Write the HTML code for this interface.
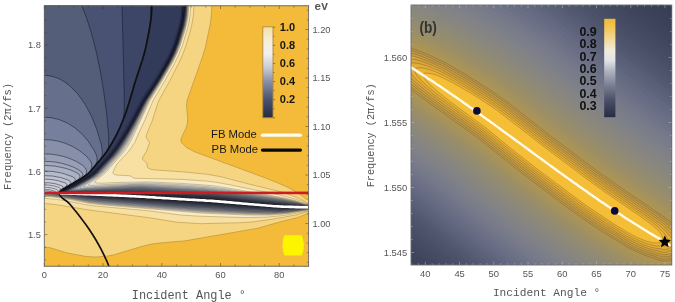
<!DOCTYPE html>
<html><head><meta charset="utf-8"><style>
html,body{margin:0;padding:0;background:#fff;}
body{width:675px;height:302px;position:relative;overflow:hidden;font-family:"Liberation Sans",sans-serif;}
.pl{position:absolute;left:0;top:0;}
#wrap{position:absolute;left:0;top:0;width:675px;height:302px;filter:blur(0.4px);}
.t{position:absolute;white-space:nowrap;line-height:1;}
</style></head><body>
<div id="wrap"><svg class="pl" width="675" height="302" viewBox="0 0 675 302"><defs><clipPath id="cL"><rect x="44.3" y="5.8" width="264.3" height="260.4"/></clipPath><clipPath id="cA"><path d="M43.3,4.8 L183.9,4.8 L183.8,5.3 L183.8,5.8 L183.8,6.3 L183.8,6.8 L183.7,7.3 L183.7,7.8 L183.7,8.3 L183.6,8.8 L183.6,9.3 L183.6,9.8 L183.5,10.3 L183.5,10.8 L183.4,11.3 L183.4,11.8 L183.3,12.3 L183.3,12.8 L183.2,13.3 L183.2,13.8 L183.1,14.3 L183.1,14.8 L183,15.3 L182.9,15.8 L182.9,16.3 L182.8,16.8 L182.7,17.3 L182.7,17.8 L182.6,18.3 L182.5,18.8 L182.4,19.3 L182.3,19.8 L182.2,20.3 L182.1,20.8 L182,21.3 L181.9,21.8 L181.8,22.3 L181.7,22.8 L181.6,23.3 L181.5,23.8 L181.4,24.3 L181.3,24.8 L181.2,25.3 L181,25.8 L180.9,26.3 L180.8,26.8 L180.6,27.3 L180.5,27.8 L180.4,28.3 L180.2,28.8 L180.1,29.3 L180,29.8 L179.8,30.3 L179.7,30.8 L179.5,31.3 L179.4,31.8 L179.2,32.3 L179.1,32.8 L178.9,33.3 L178.8,33.8 L178.6,34.3 L178.5,34.8 L178.3,35.3 L178.1,35.8 L178,36.3 L177.8,36.8 L177.7,37.3 L177.5,37.8 L177.3,38.3 L177.2,38.8 L177,39.3 L176.8,39.8 L176.7,40.3 L176.5,40.8 L176.3,41.3 L176.2,41.8 L176,42.3 L175.8,42.8 L175.6,43.3 L175.5,43.8 L175.3,44.3 L175.1,44.8 L175,45.3 L174.8,45.8 L174.6,46.3 L174.4,46.8 L174.2,47.3 L174,47.8 L173.8,48.3 L173.7,48.8 L173.5,49.3 L173.3,49.8 L173,50.3 L172.8,50.8 L172.6,51.3 L172.4,51.8 L172.2,52.3 L172,52.8 L171.8,53.3 L171.5,53.8 L171.3,54.3 L171.1,54.8 L170.8,55.3 L170.6,55.8 L170.3,56.3 L170.1,56.8 L169.8,57.3 L169.6,57.8 L169.3,58.3 L169.1,58.8 L168.8,59.3 L168.5,59.8 L168.3,60.3 L168,60.8 L167.7,61.3 L167.5,61.8 L167.2,62.3 L166.9,62.8 L166.6,63.3 L166.4,63.8 L166.1,64.3 L165.8,64.8 L165.5,65.3 L165.2,65.8 L164.9,66.3 L164.6,66.8 L164.4,67.3 L164.1,67.8 L163.8,68.3 L163.5,68.8 L163.2,69.3 L162.9,69.8 L162.6,70.3 L162.3,70.8 L162,71.3 L161.7,71.8 L161.4,72.3 L161.1,72.8 L160.8,73.3 L160.5,73.8 L160.2,74.3 L159.9,74.8 L159.6,75.3 L159.3,75.8 L159,76.3 L158.7,76.8 L158.4,77.3 L158.1,77.8 L157.8,78.3 L157.5,78.8 L157.2,79.3 L156.9,79.8 L156.6,80.3 L156.3,80.8 L156,81.3 L155.7,81.8 L155.4,82.3 L155.1,82.8 L154.8,83.3 L154.4,83.8 L154.1,84.3 L153.8,84.8 L153.4,85.3 L153.1,85.8 L152.8,86.3 L152.4,86.8 L152.1,87.3 L151.8,87.8 L151.4,88.3 L151.1,88.8 L150.7,89.3 L150.4,89.8 L150,90.3 L149.7,90.8 L149.3,91.3 L149,91.8 L148.7,92.3 L148.3,92.8 L148,93.3 L147.6,93.8 L147.3,94.3 L147,94.8 L146.6,95.3 L146.3,95.8 L146,96.3 L145.6,96.8 L145.3,97.3 L145,97.8 L144.7,98.3 L144.4,98.8 L144.1,99.3 L143.7,99.8 L143.4,100.3 L143.1,100.8 L142.9,101.3 L142.6,101.8 L142.3,102.3 L142,102.8 L141.7,103.3 L141.5,103.8 L141.2,104.3 L140.9,104.8 L140.7,105.3 L140.4,105.8 L140.1,106.3 L139.9,106.8 L139.6,107.3 L139.4,107.8 L139.1,108.3 L138.8,108.8 L138.6,109.3 L138.3,109.8 L138.1,110.3 L137.8,110.8 L137.6,111.3 L137.3,111.8 L137,112.3 L136.8,112.8 L136.5,113.3 L136.3,113.8 L136,114.3 L135.7,114.8 L135.5,115.3 L135.2,115.8 L135,116.3 L134.7,116.8 L134.4,117.3 L134.2,117.8 L133.9,118.3 L133.6,118.8 L133.4,119.3 L133.1,119.8 L132.8,120.3 L132.6,120.8 L132.3,121.3 L132,121.8 L131.7,122.3 L131.5,122.8 L131.2,123.3 L130.9,123.8 L130.6,124.3 L130.3,124.8 L130.1,125.3 L129.8,125.8 L129.5,126.3 L129.2,126.8 L128.9,127.3 L128.6,127.8 L128.3,128.3 L128,128.8 L127.7,129.3 L127.4,129.8 L127.1,130.3 L126.8,130.8 L126.5,131.3 L126.2,131.8 L125.9,132.3 L125.6,132.8 L125.3,133.3 L125,133.8 L124.7,134.3 L124.4,134.8 L124.1,135.3 L123.8,135.8 L123.5,136.3 L123.2,136.8 L122.9,137.3 L122.5,137.8 L122.2,138.3 L121.9,138.8 L121.6,139.3 L121.3,139.8 L120.9,140.3 L120.6,140.8 L120.3,141.3 L120,141.8 L119.6,142.3 L119.3,142.8 L119,143.3 L118.7,143.8 L118.3,144.3 L118,144.8 L117.7,145.3 L117.3,145.8 L117,146.3 L116.7,146.8 L116.3,147.3 L116,147.8 L115.6,148.3 L115.3,148.8 L114.9,149.3 L114.6,149.8 L114.2,150.3 L113.9,150.8 L113.5,151.3 L113.1,151.8 L112.7,152.3 L112.3,152.8 L111.9,153.3 L111.5,153.8 L111.1,154.3 L110.7,154.8 L110.2,155.3 L109.8,155.8 L109.4,156.3 L108.9,156.8 L108.5,157.3 L108,157.8 L107.6,158.3 L107.1,158.8 L106.6,159.3 L106.2,159.8 L105.7,160.3 L105.2,160.8 L104.8,161.3 L104.3,161.8 L103.8,162.3 L103.3,162.8 L102.9,163.3 L102.4,163.8 L101.9,164.3 L101.5,164.8 L101,165.3 L100.5,165.8 L100.1,166.3 L99.6,166.8 L99.2,167.3 L98.7,167.8 L98.3,168.3 L97.8,168.8 L97.3,169.3 L96.9,169.8 L96.4,170.3 L95.9,170.8 L95.4,171.3 L94.8,171.8 L94.3,172.3 L93.7,172.8 L93.1,173.3 L92.5,173.8 L91.9,174.3 L91.2,174.8 L90.5,175.3 L89.8,175.8 L89,176.3 L88.2,176.8 L87.4,177.3 L86.6,177.8 L85.7,178.3 L84.8,178.8 L84,179.3 L83.1,179.8 L82.2,180.3 L81.3,180.8 L80.4,181.3 L79.5,181.8 L78.6,182.3 L77.7,182.8 L76.8,183.3 L75.9,183.8 L74.9,184.3 L74,184.8 L73,185.3 L72,185.8 L71,186.3 L69.9,186.8 L68.9,187.3 L67.9,187.8 L66.9,188.3 L65.9,188.8 L64.9,189.3 L63.9,189.8 L62.9,190.3 L62,190.8 L61.3,191.3 L60.8,191.8 L60.5,192.3 L60.2,192.8 L43.3,192.9Z"/></clipPath><clipPath id="cR"><path clip-rule="evenodd" d="M0,0H675V302H0ZM43.3,4.8 L183.9,4.8 L183.8,5.3 L183.8,5.8 L183.8,6.3 L183.8,6.8 L183.7,7.3 L183.7,7.8 L183.7,8.3 L183.6,8.8 L183.6,9.3 L183.6,9.8 L183.5,10.3 L183.5,10.8 L183.4,11.3 L183.4,11.8 L183.3,12.3 L183.3,12.8 L183.2,13.3 L183.2,13.8 L183.1,14.3 L183.1,14.8 L183,15.3 L182.9,15.8 L182.9,16.3 L182.8,16.8 L182.7,17.3 L182.7,17.8 L182.6,18.3 L182.5,18.8 L182.4,19.3 L182.3,19.8 L182.2,20.3 L182.1,20.8 L182,21.3 L181.9,21.8 L181.8,22.3 L181.7,22.8 L181.6,23.3 L181.5,23.8 L181.4,24.3 L181.3,24.8 L181.2,25.3 L181,25.8 L180.9,26.3 L180.8,26.8 L180.6,27.3 L180.5,27.8 L180.4,28.3 L180.2,28.8 L180.1,29.3 L180,29.8 L179.8,30.3 L179.7,30.8 L179.5,31.3 L179.4,31.8 L179.2,32.3 L179.1,32.8 L178.9,33.3 L178.8,33.8 L178.6,34.3 L178.5,34.8 L178.3,35.3 L178.1,35.8 L178,36.3 L177.8,36.8 L177.7,37.3 L177.5,37.8 L177.3,38.3 L177.2,38.8 L177,39.3 L176.8,39.8 L176.7,40.3 L176.5,40.8 L176.3,41.3 L176.2,41.8 L176,42.3 L175.8,42.8 L175.6,43.3 L175.5,43.8 L175.3,44.3 L175.1,44.8 L175,45.3 L174.8,45.8 L174.6,46.3 L174.4,46.8 L174.2,47.3 L174,47.8 L173.8,48.3 L173.7,48.8 L173.5,49.3 L173.3,49.8 L173,50.3 L172.8,50.8 L172.6,51.3 L172.4,51.8 L172.2,52.3 L172,52.8 L171.8,53.3 L171.5,53.8 L171.3,54.3 L171.1,54.8 L170.8,55.3 L170.6,55.8 L170.3,56.3 L170.1,56.8 L169.8,57.3 L169.6,57.8 L169.3,58.3 L169.1,58.8 L168.8,59.3 L168.5,59.8 L168.3,60.3 L168,60.8 L167.7,61.3 L167.5,61.8 L167.2,62.3 L166.9,62.8 L166.6,63.3 L166.4,63.8 L166.1,64.3 L165.8,64.8 L165.5,65.3 L165.2,65.8 L164.9,66.3 L164.6,66.8 L164.4,67.3 L164.1,67.8 L163.8,68.3 L163.5,68.8 L163.2,69.3 L162.9,69.8 L162.6,70.3 L162.3,70.8 L162,71.3 L161.7,71.8 L161.4,72.3 L161.1,72.8 L160.8,73.3 L160.5,73.8 L160.2,74.3 L159.9,74.8 L159.6,75.3 L159.3,75.8 L159,76.3 L158.7,76.8 L158.4,77.3 L158.1,77.8 L157.8,78.3 L157.5,78.8 L157.2,79.3 L156.9,79.8 L156.6,80.3 L156.3,80.8 L156,81.3 L155.7,81.8 L155.4,82.3 L155.1,82.8 L154.8,83.3 L154.4,83.8 L154.1,84.3 L153.8,84.8 L153.4,85.3 L153.1,85.8 L152.8,86.3 L152.4,86.8 L152.1,87.3 L151.8,87.8 L151.4,88.3 L151.1,88.8 L150.7,89.3 L150.4,89.8 L150,90.3 L149.7,90.8 L149.3,91.3 L149,91.8 L148.7,92.3 L148.3,92.8 L148,93.3 L147.6,93.8 L147.3,94.3 L147,94.8 L146.6,95.3 L146.3,95.8 L146,96.3 L145.6,96.8 L145.3,97.3 L145,97.8 L144.7,98.3 L144.4,98.8 L144.1,99.3 L143.7,99.8 L143.4,100.3 L143.1,100.8 L142.9,101.3 L142.6,101.8 L142.3,102.3 L142,102.8 L141.7,103.3 L141.5,103.8 L141.2,104.3 L140.9,104.8 L140.7,105.3 L140.4,105.8 L140.1,106.3 L139.9,106.8 L139.6,107.3 L139.4,107.8 L139.1,108.3 L138.8,108.8 L138.6,109.3 L138.3,109.8 L138.1,110.3 L137.8,110.8 L137.6,111.3 L137.3,111.8 L137,112.3 L136.8,112.8 L136.5,113.3 L136.3,113.8 L136,114.3 L135.7,114.8 L135.5,115.3 L135.2,115.8 L135,116.3 L134.7,116.8 L134.4,117.3 L134.2,117.8 L133.9,118.3 L133.6,118.8 L133.4,119.3 L133.1,119.8 L132.8,120.3 L132.6,120.8 L132.3,121.3 L132,121.8 L131.7,122.3 L131.5,122.8 L131.2,123.3 L130.9,123.8 L130.6,124.3 L130.3,124.8 L130.1,125.3 L129.8,125.8 L129.5,126.3 L129.2,126.8 L128.9,127.3 L128.6,127.8 L128.3,128.3 L128,128.8 L127.7,129.3 L127.4,129.8 L127.1,130.3 L126.8,130.8 L126.5,131.3 L126.2,131.8 L125.9,132.3 L125.6,132.8 L125.3,133.3 L125,133.8 L124.7,134.3 L124.4,134.8 L124.1,135.3 L123.8,135.8 L123.5,136.3 L123.2,136.8 L122.9,137.3 L122.5,137.8 L122.2,138.3 L121.9,138.8 L121.6,139.3 L121.3,139.8 L120.9,140.3 L120.6,140.8 L120.3,141.3 L120,141.8 L119.6,142.3 L119.3,142.8 L119,143.3 L118.7,143.8 L118.3,144.3 L118,144.8 L117.7,145.3 L117.3,145.8 L117,146.3 L116.7,146.8 L116.3,147.3 L116,147.8 L115.6,148.3 L115.3,148.8 L114.9,149.3 L114.6,149.8 L114.2,150.3 L113.9,150.8 L113.5,151.3 L113.1,151.8 L112.7,152.3 L112.3,152.8 L111.9,153.3 L111.5,153.8 L111.1,154.3 L110.7,154.8 L110.2,155.3 L109.8,155.8 L109.4,156.3 L108.9,156.8 L108.5,157.3 L108,157.8 L107.6,158.3 L107.1,158.8 L106.6,159.3 L106.2,159.8 L105.7,160.3 L105.2,160.8 L104.8,161.3 L104.3,161.8 L103.8,162.3 L103.3,162.8 L102.9,163.3 L102.4,163.8 L101.9,164.3 L101.5,164.8 L101,165.3 L100.5,165.8 L100.1,166.3 L99.6,166.8 L99.2,167.3 L98.7,167.8 L98.3,168.3 L97.8,168.8 L97.3,169.3 L96.9,169.8 L96.4,170.3 L95.9,170.8 L95.4,171.3 L94.8,171.8 L94.3,172.3 L93.7,172.8 L93.1,173.3 L92.5,173.8 L91.9,174.3 L91.2,174.8 L90.5,175.3 L89.8,175.8 L89,176.3 L88.2,176.8 L87.4,177.3 L86.6,177.8 L85.7,178.3 L84.8,178.8 L84,179.3 L83.1,179.8 L82.2,180.3 L81.3,180.8 L80.4,181.3 L79.5,181.8 L78.6,182.3 L77.7,182.8 L76.8,183.3 L75.9,183.8 L74.9,184.3 L74,184.8 L73,185.3 L72,185.8 L71,186.3 L69.9,186.8 L68.9,187.3 L67.9,187.8 L66.9,188.3 L65.9,188.8 L64.9,189.3 L63.9,189.8 L62.9,190.3 L62,190.8 L61.3,191.3 L60.8,191.8 L60.5,192.3 L60.2,192.8 L43.3,192.9Z"/></clipPath><filter id="bl1" x="-5%" y="-5%" width="110%" height="110%"><feGaussianBlur stdDeviation="0.9"/></filter></defs><g clip-path="url(#cL)"><g clip-path="url(#cR)"><rect x="43.3" y="4.8" width="266.3" height="262.4" fill="#14161e"/><path d="M184.1,4.8L309.3,4.8 309.3,266.8 43.3,266.8 43.3,112.8 136.8,112.6 143.6,100.3 154.8,83.7 162.3,71.3 167.8,61.8 172.3,52.8 176.8,40.8 181.3,26 183.3,15.5 184.1,4.8ZM57.3,192.3L52.6,192.8 61.2,192.8 60.8,192.1 60.3,192 57.3,192.3ZM152.3,197.3L152,197.3 157.3,197.4 158.4,197.8 186.7,199.8 224.7,201.8 210.8,200.3 158.7,197.3 152.3,197.3Z" fill="#242834"/><path d="M184.6,4.8L309.3,4.8 309.3,266.8 43.3,266.8 43.3,192.9 63.8,192.8 63.1,191.8 63.4,190.8 69.3,186.8 69.8,186.8 52,188.8 43.3,189.1 43.3,155 109.8,155 112.3,152.9 119.8,142.8 127.8,130.3 133.3,120.8 143.6,101.3 156.8,81.3 166.3,65.2 171.3,55.8 175.8,45 181.3,27.6 183.4,17.8 184.6,4.8ZM115.3,193.8L93.3,194.1 89.4,194.3 88.9,194.8 112.7,196.8 270.8,207.3 282.8,207.5 287.9,207.3 290.2,206.8 289.3,206.3 286.3,205.8 211.3,198.3 143.3,194.2 115.3,193.8Z" fill="#313543"/><path d="M184.9,4.8L309.3,4.8 309.3,266.8 43.3,266.8 43.3,192.9 67.1,192.8 64.9,191.8 64.6,191.3 65.2,190.3 86.8,178.3 94.7,172.8 109.3,157.6 114.8,151.2 121.3,141.8 128.3,130.6 134.3,120 144.1,101.3 157.3,81 166.8,65 171.8,55.5 176.3,44.6 181.8,27 183.8,17.3 184.9,4.8ZM93.3,192.8L78.8,193.7 76.6,194.3 81.1,195.3 90.8,196.4 251.3,207.2 280.8,208.6 294.6,207.8 297.6,207.3 298.2,206.8 294.4,205.8 287.1,204.8 209.8,196.8 140.8,192.8 93.3,192.8Z" fill="#404453"/><path d="M185.2,4.8L309.3,4.8 309.3,266.8 43.3,266.8 43.3,193 71.3,193.2 72.2,193.3 69.5,193.8 70.1,194.3 75.4,195.3 90.8,197.2 178.3,203.6 247.3,208 280.3,209.3 296.5,208.3 301.9,207.3 301.9,206.8 298.8,205.8 288.8,204.3 209.3,195.5 141.3,191.5 128.3,191.5 74.3,192.6 68.8,192.3 66.2,191.3 66.4,190.3 67.8,189.3 88.5,177.8 95.6,172.8 113.3,154 122.3,141.3 132.3,124.5 144.7,100.8 157.8,80.8 167.8,63.8 172.8,54.1 176.8,44 182.3,26.2 184.3,15.9 185.2,4.8Z" fill="#505464"/><path d="M185.5,4.8L309.3,4.8 309.3,266.8 43.3,266.8 43.3,193 64.5,193.3 63.5,193.8 67.6,194.8 91.8,198 180.4,204.8 244,208.8 279.8,210 296.8,208.8 301.3,208.2 304.1,207.3 303.9,206.8 302.9,206.3 300.8,205.7 286.5,203.3 209.8,194.3 141.9,190.3 130.8,190.3 75.3,192.1 69.8,191.7 67.6,190.8 68.1,189.8 69.6,188.8 89.2,177.8 96.3,172.8 113.7,154.3 122.3,142.3 132.8,124.5 145.1,100.8 158.4,80.3 168.1,63.8 173.2,53.8 177,44.3 182.6,26.3 184.5,16.3 185.5,4.8Z" fill="#616575"/><path d="M185.8,5.3L185.8,4.8 309.3,4.8 309.3,266.8 43.3,266.8 43.3,193.1 59.5,193.3 59.2,193.8 63.5,194.8 86.8,198.2 95.8,199.1 181.6,205.8 237.3,209.3 268.3,210.5 279.3,210.6 300.3,208.8 303.8,208.1 305.9,207.3 304.5,206.3 301.2,205.3 284.3,202.4 209.3,193.2 142.3,189.2 131.3,189.3 76.8,191.6 71.3,191.3 69.5,190.8 69.1,190.3 71.3,188.3 90,177.8 97.1,172.8 114.4,154.3 117.9,149.8 122.9,142.3 133.1,124.8 145.5,100.8 158.4,80.8 168.4,63.8 173.5,53.8 177.5,43.8 182.9,26.3 184.8,16.3 185.8,5.3Z" fill="#737786"/><path d="M186.1,4.8L309.3,4.8 309.3,266.8 43.3,266.8 43.3,193.2 55.5,193.3 55.6,193.8 60.1,194.8 87.3,198.8 97.8,200 177.6,206.3 232.5,209.8 254,210.8 278.3,211.2 299.3,209.3 305,208.3 308.1,207.3 300.8,204.8 284.3,201.8 227,194.3 208.8,192.3 141.8,188.3 130.8,188.5 78.8,191 73.8,191 71,190.3 70.8,189.8 71.1,189.3 72.4,188.3 91.3,177.5 98.3,172.3 115.1,154.3 118.6,149.8 123.6,142.3 133.6,124.8 145.8,100.9 159.1,80.3 169,63.3 174.1,53.3 178.5,41.8 183.4,25.3 185.2,16.3 186.1,4.8Z" fill="#858894"/><path d="M186.5,4.8L309.3,4.8 309.3,206.6 299.3,204.1 282.3,200.9 228.8,193.8 206.8,191.3 141.8,187.4 130.8,187.7 79.8,190.5 75.3,190.5 72.8,189.8 73,188.8 74.2,187.8 92.8,177 99.1,172.3 116.2,153.8 124.2,142.3 134.1,124.8 146.3,100.7 159.1,80.8 169.1,63.8 174.4,53.3 178.6,42.3 183.6,25.8 185.5,16.3 186.5,4.8ZM43.3,193.3L51.5,193.3 51.9,193.8 57,194.8 88.3,199.6 99.8,200.8 194.3,208.3 230.3,210.4 253.8,211.5 276.8,211.7 293.8,210.3 309.3,208 309.3,266.8 43.3,266.8 43.3,193.3Z" fill="#979aa4"/><path d="M186.8,4.8L309.3,4.8 309.3,206.2 298.3,203.5 281.8,200.3 229.3,193.1 206.3,190.5 141.8,186.6 130.8,186.9 80.8,189.9 76.8,189.9 74.9,189.3 75.1,188.3 76.3,187.3 93.8,176.9 99.9,172.3 116.9,153.8 124.9,142.3 134.6,124.8 146.8,100.6 159.5,80.8 169.1,64.3 174.5,53.8 178.5,43.8 184,25.8 185.9,15.8 186.8,4.8ZM43.3,193.3L45.6,193.3 87.8,200.1 97.9,201.3 199.2,209.3 247.3,211.8 271.8,212.3 286.8,211.5 309.3,208.4 309.3,266.8 43.3,266.8 43.3,193.3Z" fill="#a9abb2"/><path d="M187.1,4.8L309.3,4.8 309.3,205.8 306.3,205.4 295.8,202.6 281.3,199.7 228.3,192.1 205.8,189.6 142.3,185.8 131.3,186.1 81.8,189.2 78.8,189.2 77.3,188.5 77.4,187.8 78.5,186.8 95.3,176.5 101.3,171.8 118.1,153.3 125.7,142.3 135.5,124.3 147.3,100.5 158.6,82.8 165.5,71.3 171.2,61.3 175.1,53.3 179.5,41.8 184.5,25.3 186.2,16.3 187.1,4.8ZM43.3,194.8L43.3,194.3 45.3,194.4 53.8,195.2 71.3,197.6 88.8,200.8 101.8,202.3 200.3,210 248.3,212.5 270.8,212.8 286.3,211.9 309.3,208.8 309.3,266.8 43.3,266.8 43.3,194.8Z" fill="#babcc0"/><path d="M187.5,4.8L309.3,4.8 309.3,205.5 306.3,205.1 293.3,201.6 281.3,199.2 227.3,191.1 205.8,188.7 181.8,187 142.8,184.9 131.8,185.2 84.3,188.3 81,188.3 80,187.8 80.5,186.8 81.8,185.8 96.8,176.2 102.2,171.8 119,153.3 126.5,142.3 136.1,124.3 147.8,100.5 159.1,82.8 166.5,70.3 171.6,61.3 175.6,53.3 179.1,44.3 184.6,26.3 186.6,16.3 187.5,4.8ZM43.3,195.3L43.3,194.8 45.8,194.9 55.3,195.8 70.8,198 88.8,201.4 102.8,203 200.3,210.7 248.3,213 270.3,213.3 285.8,212.4 309.3,209.1 309.3,266.8 43.3,266.8 43.3,195.3Z" fill="#cccccc"/><path d="M188,4.8L309.3,4.8 309.3,205.3 306.3,204.8 293.3,201.1 281.8,198.7 226.8,190.1 206.8,187.7 182.3,186 143.3,184 115.3,185.2 87.3,187.1 83.6,186.8 83.6,186.3 85.2,184.8 98.8,175.7 103.8,171.4 120,153.3 127.5,142.3 137.6,122.8 148.3,100.7 159.6,82.8 167,70.3 172.1,61.3 176,53.3 179.5,44.3 185.1,26.3 187,16.3 188,4.8ZM43.3,195.3L50.8,195.7 59.7,196.8 72.3,198.8 88.8,202 101.3,203.5 200.3,211.4 248.3,213.6 269.8,213.9 285.3,212.9 309.3,209.3 309.3,266.8 43.3,266.8 43.3,195.3Z" fill="#dadad6"/><path d="M188.5,4.8L309.3,4.8 309.3,205 306.3,204.5 295.3,201.1 281.8,198.1 226.8,189.1 208.8,186.7 183.3,184.8 145.8,183 117.8,183.9 92.3,185.4 89.3,185.3 88.3,184.8 90.1,182.8 100.8,175.3 105.2,171.3 121.6,152.8 128.7,142.3 139.5,120.8 148.8,101 160.5,82.3 168.1,69.3 173.2,60.3 177,52.3 181.1,41.3 185.6,26.3 187.5,16.3 188.5,4.8ZM43.3,195.8L50.8,196.2 59.8,197.3 72.2,199.3 88.3,202.5 100.8,204.1 199.8,212.1 247.3,214.2 269.8,214.4 286.8,213.2 309.3,209.6 309.3,266.8 43.3,266.8 43.3,195.8Z" fill="#e7e5dd"/><path d="M189.1,4.8L309.3,4.8 309.3,204.7 306.3,204.1 295.3,200.5 282.8,197.6 227.8,188 210.8,185.5 183.3,183.5 149.3,181.9 119.8,182.4 102.3,183.2 96.8,183 94.7,182.3 94.7,181.8 95.4,180.8 103.3,174.6 106.8,171.3 122.7,153.3 127.4,146.8 130.7,141.3 149.8,100.8 161.6,81.8 173.1,61.8 179.1,48.8 185.1,30.3 187.9,17.8 189.1,4.8ZM43.3,196.8L43.3,196.3 45.8,196.4 55.8,197.3 71.5,199.8 87.8,203.1 99.8,204.6 200.3,213 247.3,215 269.3,215.1 278.3,214.6 287.3,213.6 309.3,209.9 309.3,266.8 43.3,266.8 43.3,196.8Z" fill="#f7ebc8"/><path d="M190.9,4.8L309.3,4.8 309.3,204 306,203.3 300.8,201 294.8,199 282.3,195.5 228.3,184.5 214.8,182.1 206.3,181.1 181.8,179.4 134.8,178.3 132.8,177.9 131.4,176.3 129.8,175.8 117.3,175.1 114.8,174.6 113.3,173.8 113,172.8 113.3,171.3 116.5,164.8 119.8,160.8 128.8,151.3 134.9,142.3 137.8,135.3 145,119.8 152.8,101 165.1,80.3 173.7,64.8 178.5,55.3 182.6,44.8 188,26.8 190,16.3 190.9,4.8ZM43.3,198.3L48.3,198.4 56.3,199.3 71.6,201.8 87.8,205 95.3,206 149.1,210.8 180.3,215 199.3,216.2 245.8,217.6 265.8,217.1 275.3,216.4 285.8,215.1 309.3,210.6 309.3,266.8 43.3,266.8 43.3,198.3Z" fill="#f7e0a2"/><path d="M194.1,4.8L309.3,4.8 309.3,203 306.3,202.3 300.3,199.1 293.3,196.1 281.8,192 247.8,183.8 220.3,176.6 206.3,174.2 183.3,171.9 154.3,169.9 151.3,169.4 148.6,168.3 147.3,167.3 147,163.3 142.5,159.3 142.5,157.8 146.4,151.3 149.4,143.3 149.2,141.8 146.4,137.8 146.2,136.3 146.6,134.3 152.1,121.3 157.8,103.2 160.3,97.8 169,82.3 178.7,63.3 182.6,54.8 185.6,46.8 189.7,33.3 192.1,23.3 193.4,14.8 194.1,4.8ZM43.3,203.8L43.3,203.5 46.8,203.6 53.9,204.3 89.8,210.1 149.8,217.8 177.3,222.3 200.3,223.7 241.3,222.7 251.8,222 269.8,219.6 282.3,217.5 297.3,214.6 306.3,211.9 309.3,211.5 309.3,266.8 43.3,266.8 43.3,203.8Z" fill="#f6d582"/><path d="M211.9,4.8L309.3,4.8 309.3,200.5 306.3,199.3 300.3,194.5 295.3,191.4 287.8,187.4 279.8,183.8 264.8,177.8 194.3,151.7 186.3,147.4 181.2,142.3 180.8,140.3 181.3,137.9 185.8,128.6 187.4,123.3 187.6,117.8 186.5,105.8 186.9,100.8 202.3,57.2 205.3,47.5 210.3,23.7 211.3,15.2 211.9,4.8ZM307.2,213.8L309.3,213.5 309.3,266.8 43.3,266.8 43.3,246.9 49.8,247.6 66.8,252.8 85.1,256.3 95.3,257 107.8,256 113.9,254.8 141.3,246.5 151.3,244.1 159.3,243 185.2,240.8 258.3,228.1 280,221.8 297.8,217.4 307.2,213.8Z" fill="#f4bb3a"/><path d="M43.3,112.8L136.8,112.6 143.6,100.3 154.8,83.7 162.3,71.3 167.8,61.8 172.3,52.8 176.8,40.8 181.3,26 183.3,15.5 184.1,4.8M57.3,192.3L52.6,192.8 61.2,192.8 60.8,192.1 60.3,192 57.3,192.3M152.3,197.3L152,197.3 157.3,197.4 158.4,197.8 186.7,199.8 224.7,201.8 210.8,200.3 158.7,197.3 152.3,197.3M43.3,155L109.8,155 112.3,152.9 119.8,142.8 127.8,130.3 133.3,120.8 143.6,101.3 156.8,81.3 166.3,65.2 171.3,55.8 175.8,45 181.3,27.6 183.4,17.8 184.6,4.8M43.3,192.9L63.8,192.8 63.1,191.8 63.4,190.8 69.3,186.8 69.8,186.8 52,188.8 43.3,189.1M115.3,193.8L93.3,194.1 89.4,194.3 88.9,194.8 112.7,196.8 270.8,207.3 282.8,207.5 287.9,207.3 290.2,206.8 289.3,206.3 286.3,205.8 211.3,198.3 143.3,194.2 115.3,193.8M93.3,192.8L78.8,193.7 76.6,194.3 81.1,195.3 90.8,196.4 251.3,207.2 280.8,208.6 294.6,207.8 297.6,207.3 298.2,206.8 294.4,205.8 287.1,204.8 209.8,196.8 140.8,192.8 93.3,192.8M43.3,192.9L67.1,192.8 64.9,191.8 64.6,191.3 65.2,190.3 86.8,178.3 94.7,172.8 109.3,157.6 114.8,151.2 121.3,141.8 128.3,130.6 134.3,120 144.1,101.3 157.3,81 166.8,65 171.8,55.5 176.3,44.6 181.8,27 183.8,17.3 184.9,4.8M43.3,193L71.3,193.2 72.2,193.3 69.5,193.8 70.1,194.3 75.4,195.3 90.8,197.2 178.3,203.6 247.3,208 280.3,209.3 296.5,208.3 301.9,207.3 301.9,206.8 298.8,205.8 288.8,204.3 209.3,195.5 141.3,191.5 128.3,191.5 74.3,192.6 68.8,192.3 66.2,191.3 66.4,190.3 67.8,189.3 88.5,177.8 95.6,172.8 113.3,154 122.3,141.3 132.3,124.5 144.7,100.8 157.8,80.8 167.8,63.8 172.8,54.1 176.8,44 182.3,26.2 184.3,15.9 185.2,4.8M43.3,193L64.5,193.3 63.5,193.8 67.6,194.8 91.8,198 180.4,204.8 244,208.8 279.8,210 296.8,208.8 301.3,208.2 304.1,207.3 303.9,206.8 302.9,206.3 300.8,205.7 286.5,203.3 209.8,194.3 141.9,190.3 130.8,190.3 75.3,192.1 69.8,191.7 67.6,190.8 68.1,189.8 69.6,188.8 89.2,177.8 96.3,172.8 113.7,154.3 122.3,142.3 132.8,124.5 145.1,100.8 158.4,80.3 168.1,63.8 173.2,53.8 177,44.3 182.6,26.3 184.5,16.3 185.5,4.8M43.3,193.1L59.5,193.3 59.2,193.8 63.5,194.8 86.8,198.2 95.8,199.1 181.6,205.8 237.3,209.3 268.3,210.5 279.3,210.6 300.3,208.8 303.8,208.1 305.9,207.3 304.5,206.3 301.2,205.3 284.3,202.4 209.3,193.2 142.3,189.2 131.3,189.3 76.8,191.6 71.3,191.3 69.5,190.8 69.1,190.3 71.3,188.3 90,177.8 97.1,172.8 114.4,154.3 117.9,149.8 122.9,142.3 133.1,124.8 145.5,100.8 158.4,80.8 168.4,63.8 173.5,53.8 177.5,43.8 183,25.8 184.9,15.8 185.8,4.8M43.3,193.2L55.5,193.3 55.6,193.8 60.1,194.8 87.3,198.8 97.8,200 177.6,206.3 232.5,209.8 254,210.8 278.3,211.2 299.3,209.3 305,208.3 308.1,207.3 300.8,204.8 284.3,201.8 227,194.3 208.8,192.3 141.8,188.3 130.8,188.5 78.8,191 73.8,191 71,190.3 70.8,189.8 71.1,189.3 72.4,188.3 91.3,177.5 98.3,172.3 115.1,154.3 118.6,149.8 123.6,142.3 133.6,124.8 145.8,100.9 159.1,80.3 169,63.3 174.1,53.3 178.5,41.8 183.4,25.3 185.2,16.3 186.1,4.8M43.3,193.2L51.5,193.3 51.9,193.8 57,194.8 88.3,199.6 99.8,200.8 194.3,208.3 229.8,210.3 253.8,211.5 276.8,211.7 293.8,210.3 309.3,208M309.3,206.6L299.3,204.1 282.3,200.9 228.8,193.8 206.8,191.3 141.8,187.4 130.8,187.7 79.8,190.5 75.3,190.5 72.8,189.8 73,188.8 74.2,187.8 92.8,177 99.1,172.3 116.2,153.8 124.2,142.3 134.1,124.8 146.3,100.7 159.1,80.8 169.1,63.8 174.4,53.3 178.6,42.3 183.6,25.8 185.5,16.3 186.5,4.8M43.3,193.3L45.6,193.3 87.8,200.1 97.9,201.3 199.2,209.3 247.3,211.8 271.8,212.3 286.8,211.5 309.3,208.4M309.3,206.2L298.3,203.5 281.8,200.3 229.3,193.1 206.3,190.5 141.8,186.6 130.8,186.9 80.8,189.9 76.8,189.9 74.9,189.3 75.1,188.3 76.3,187.3 93.8,176.9 99.9,172.3 116.9,153.8 124.9,142.3 134.6,124.8 146.8,100.6 159.5,80.8 169.1,64.3 174.5,53.8 178.5,43.8 184,25.8 185.9,15.8 186.8,4.8M43.3,194.3L48.8,194.6 61.3,196.2 88.8,200.8 101.6,202.3 199.8,210 247.8,212.4 270.8,212.8 286.3,211.9 309.3,208.8M309.3,205.8L306.3,205.4 295.8,202.6 281.3,199.7 228.3,192.1 205.8,189.6 142.3,185.8 131.3,186.1 81.8,189.2 78.8,189.2 77.3,188.5 77.4,187.8 78.5,186.8 95.3,176.5 101.3,171.8 118.1,153.3 125.7,142.3 135.5,124.3 147.3,100.5 158.6,82.8 165.5,71.3 171.2,61.3 175.1,53.3 179.5,41.8 184.5,25.3 186.2,16.3 187.1,4.8M43.3,194.8L59.1,196.3 71.8,198.2 88.8,201.4 101.3,202.9 199.8,210.7 248.3,213 270.3,213.3 285.8,212.4 309.3,209.1M309.3,205.5L306.3,205.1 293.3,201.6 281.3,199.2 227.3,191.1 205.8,188.7 181.8,187 142.8,184.9 131.8,185.2 84.3,188.3 81,188.3 80,187.8 80.5,186.8 81.8,185.8 96.8,176.2 102.2,171.8 119,153.3 126.5,142.3 136.1,124.3 147.8,100.5 159.1,82.8 166.5,70.3 171.6,61.3 175.6,53.3 179.1,44.3 184.6,26.3 186.6,16.3 187.5,4.8M43.3,195.3L50.8,195.7 59.7,196.8 72.3,198.8 88.8,202 101.3,203.5 200.3,211.4 248.3,213.6 269.8,213.9 285.3,212.9 309.3,209.3M309.3,205.3L306.3,204.8 293.3,201.1 281.8,198.7 226.8,190.1 206.8,187.7 182.3,186 143.3,184 115.3,185.2 87.3,187.1 83.6,186.8 83.6,186.3 85.2,184.8 98.8,175.7 103.8,171.4 120,153.3 127.5,142.3 137.6,122.8 148.3,100.7 159.6,82.8 167,70.3 172.1,61.3 176,53.3 179.5,44.3 185.1,26.3 187,16.3 188,4.8" fill="none" stroke="#000" stroke-opacity="0.35" stroke-width="0.6"/><path d="M43.3,195.8L51.3,196.2 59.8,197.3 72.2,199.3 88.3,202.5 100.8,204.1 199.8,212.1 247.3,214.2 269.8,214.4 286.8,213.2 309.3,209.6M309.3,205L306.3,204.5 295.3,201.1 281.8,198.1 226.8,189.1 208.8,186.7 183.3,184.8 145.8,183 117.8,183.9 92.3,185.4 89.3,185.3 88.3,184.8 90.1,182.8 100.8,175.3 105.2,171.3 121.6,152.8 128.7,142.3 139.5,120.8 148.8,101 160.5,82.3 168.1,69.3 173.2,60.3 177,52.3 181.1,41.3 185.6,26.3 187.5,16.3 188.5,4.8M43.3,196.3L51.6,196.8 59.2,197.8 71.5,199.8 87.8,203.1 99.3,204.6 200.3,213 247.3,215 269.3,215.1 278.3,214.6 287.3,213.6 309.3,209.9M309.3,204.7L306.3,204.1 295.3,200.5 282.8,197.6 227.8,188 210.8,185.5 183.3,183.5 149.3,181.9 119.8,182.4 102.3,183.2 96.8,183 94.7,182.3 94.7,181.8 95.4,180.8 103.3,174.6 106.8,171.3 122.7,153.3 127.4,146.8 130.7,141.3 149.8,100.8 161.6,81.8 173.1,61.8 179.1,48.8 185.1,30.3 187.9,17.8 189.1,4.8M43.3,198.2L56.3,199.3 71.6,201.8 87.8,205 95.3,206 149.1,210.8 180.3,215 199.3,216.2 245.8,217.6 265.8,217.1 275.3,216.4 285.8,215.1 309.3,210.6M309.3,204L306,203.3 300.8,201 294.8,199 282.3,195.5 228.3,184.5 214.8,182.1 206.3,181.1 181.8,179.4 134.8,178.3 132.8,177.9 131.4,176.3 129.8,175.8 117.3,175.1 114.8,174.6 113.3,173.8 113,172.8 113.3,171.3 116.5,164.8 119.8,160.8 128.8,151.3 134.9,142.3 137.8,135.3 145,119.8 152.8,101 165.1,80.3 173.7,64.8 178.5,55.3 182.6,44.8 188,26.8 190,16.3 190.9,4.8M309.3,203L306.3,202.3 300.3,199.1 293.3,196.1 281.8,192 247.8,183.8 220.3,176.6 206.3,174.2 183.3,171.9 154.3,169.9 151.3,169.4 148.6,168.3 147.3,167.3 147,163.3 142.5,159.3 142.5,157.8 146.4,151.3 149.4,143.3 149.2,141.8 146.4,137.8 146.2,136.3 146.6,134.3 152.1,121.3 157.8,103.2 160.3,97.8 169,82.3 178.7,63.3 182.6,54.8 185.6,46.8 189.7,33.3 192.1,23.3 193.4,14.8 194.1,4.8M43.3,203.5L53.9,204.3 89.8,210.1 149.8,217.8 176.8,222.2 200.3,223.7 241.3,222.7 251.8,222 269.8,219.6 282.3,217.5 297.3,214.6 306.3,211.9 309.3,211.5M309.3,200.5L306.3,199.3 300.3,194.5 295.3,191.4 287.8,187.4 279.8,183.8 264.8,177.8 194.3,151.7 186.3,147.4 181.2,142.3 180.8,140.3 181.3,137.9 185.8,128.6 187.4,123.3 187.6,117.8 186.5,105.8 186.9,100.8 202.3,57.2 205.3,47.5 210.3,23.7 211.3,15.2 211.9,4.8M43.3,246.9L49.8,247.6 66.8,252.8 85.1,256.3 95.3,257 107.8,256 113.9,254.8 141.3,246.5 151.3,244.1 159.3,243 185.2,240.8 258.3,228.1 280,221.8 297.3,217.6 306.8,213.9 309.3,213.5" fill="none" stroke="#7a5a10" stroke-opacity="0.45" stroke-width="0.7"/></g><g clip-path="url(#cA)"><rect x="43.3" y="4.8" width="266.3" height="262.4" fill="#1c2030"/><path d="M43.3,4.8L284.3,4.8 284.4,266.8 43.3,266.8 43.3,4.8Z" fill="#272d46"/><path d="M43.3,4.8L183.1,4.8 182.3,14.7 180.8,23.7 178.3,33.2 174.3,45.7 168.8,58.6 158.3,77.8 158.5,266.8 43.3,266.8 43.3,4.8Z" fill="#333b5a"/><path d="M43.3,4.8L150.6,4.8 150.8,21.8 150.3,22.3 150.3,25.3 149.8,25.8 149.8,27.8 149.4,28.3 149.4,30.8 148.9,31.3 148.9,33.3 148.4,33.8 148.4,35.8 147.9,36.3 147.9,38.8 147.4,39.3 147.4,41.3 146.9,41.8 146.4,46.3 145.9,46.8 145.9,48.3 145.4,48.8 145.4,50.3 144.9,50.8 144.9,52.3 144.4,52.8 144.4,54.3 143.4,56.3 143.4,57.3 142.9,57.8 142.9,59.3 141.9,61.3 141.9,62.3 141.4,62.8 141.4,63.8 140.9,64.3 140.9,65.3 140.4,65.8 140.4,66.8 139.9,67.3 139.9,68.3 139.4,68.8 139.4,69.8 138.9,70.3 138.9,71.3 138.4,71.8 138.4,72.8 137.9,73.3 137.9,74.3 137.4,74.8 137.4,75.8 136.9,76.3 136.9,77.3 136.4,77.8 136.4,79.3 135.4,81.3 135.4,82.3 134.9,82.8 134.9,83.8 134.4,84.3 134.4,85.8 133.4,87.8 133.4,89.3 132.4,91.3 132.4,92.3 131.9,92.8 131.9,94.3 131.4,94.8 131.4,95.8 130.5,97.8 130.4,99.3 130,99.8 129,103.8 128.5,104.3 128.5,105.8 128,106.3 128,107.3 127.5,107.8 126.5,111.8 125.5,113.3 124.5,117.3 123.5,118.8 123.5,119.8 122.5,121.3 122.5,122.3 121.5,123.8 121.5,124.8 119.5,128.3 119.5,129.3 114.5,139.3 113.6,140.3 112.6,142.8 111.6,143.8 109.6,147.8 108.6,148.8 108.1,150.3 106.6,151.8 105.6,153.8 103.6,155.8 103.6,156.3 101.6,158.3 101.6,158.8 95.6,165.3 95.6,165.8 93.6,167.8 93.6,168.3 86.3,175.7 85.8,175.7 80.3,179.7 78.8,180.2 77.8,181.2 76.3,181.7 72.8,184.2 71.3,184.7 70.3,185.7 67.8,186.7 65.3,188.7 63.8,189.2 60.2,192.3 60.3,192.9 113.8,193.3 113.8,266.8 43.3,266.8 43.3,4.8Z" fill="#3d4666"/><path d="M43.3,4.8L122,4.8 124.3,96.3 124.2,110.8 123.3,119.8 122.3,121.3 122.3,122.3 121.3,123.8 121.3,124.8 119.3,128.3 119.3,129.3 114.4,139.3 113.4,140.3 112.4,142.8 111.4,143.8 110.4,146.3 108.5,148.8 108,150.3 105.5,153.3 105.5,153.8 101.5,158.3 101.5,158.8 98.5,161.8 98.5,162.3 95.6,165.3 95.5,165.8 93.6,167.8 93.6,168.3 86.3,175.6 85.8,175.6 80.3,179.6 78.8,180.1 77.8,181.1 76.3,181.6 72.8,184.1 71.3,184.6 70.3,185.6 67.8,186.6 65.3,188.6 63.8,189.1 60.1,192.3 60.3,193 108.5,193.3 108.5,266.8 43.3,266.8 43.3,4.8Z" fill="#495272"/><path d="M43.3,4.8L81.5,4.8 85.8,15.7 89.8,27.7 93.3,39.9 96.8,54.1 102.3,82.3 106.3,110.8 108.7,136.8 108.7,143.8 108.1,149.3 107.8,150.3 106.3,151.8 105.3,153.8 101.4,158.3 101.4,158.8 95.4,165.3 95.4,165.8 93.4,167.8 93.4,168.3 86.3,175.5 85.8,175.5 80.3,179.5 78.8,180 77.8,181 76.3,181.5 72.8,184 71.3,184.5 70.3,185.5 67.8,186.5 65.3,188.5 63.8,189 61,191.3 60,192.3 60,192.8 60.3,193.1 102.6,193.3 103.2,199.8 103.2,266.8 43.3,266.8 43.3,4.8Z" fill="#545e79"/><path d="M43.3,75.8L43.3,75.4 45.8,75.4 51.3,76.2 56.3,77.6 60.8,79.6 65.3,82.4 69.3,85.4 77.3,93.4 84.8,103.8 91.3,115.8 96.8,129.4 101.3,144.6 102.4,152.3 101.7,157.8 101.3,158.8 98.3,161.8 98.3,162.3 95.4,165.3 95.3,165.8 93.4,167.8 93.4,168.3 86.3,175.4 85.8,175.4 80.3,179.4 78.8,179.9 77.8,180.9 76.3,181.4 72.8,183.9 71.3,184.4 70.3,185.4 67.8,186.4 65.3,188.4 63.8,189 59.9,192.3 60.3,193.2 85.8,193.3 86.5,194.8 87.4,199.8 87.4,266.8 43.3,266.8 43.3,75.8Z" fill="#66708d"/><path d="M43.3,117.3L51.3,117.7 59.3,119.6 67.3,123 74.8,127.7 81.8,133.8 88.3,141.2 94.3,150.5 96.1,154.3 97,157.3 97,161.3 95.3,165.8 93.3,167.8 93.3,168.3 86.3,175.3 85.8,175.4 80.3,179.4 78.8,179.9 77.8,180.9 76.3,181.4 72.8,183.9 71.3,184.4 70.3,185.4 67.8,186.4 65.3,188.4 63.8,188.9 59.9,192.3 60.3,193.3 71.4,193.3 72.9,195.8 73.7,198.3 73.9,266.8 43.3,266.8 43.3,117.3Z" fill="#767f9b"/><path d="M43.3,139.8L49.8,139.8 57.8,141.1 65.3,143.3 72.3,146.3 79.3,150.5 85.8,155.6 90.3,160.7 91.8,164.3 91.6,167.8 90.3,171.3 86.3,175.3 85.8,175.3 80.3,179.3 78.8,179.8 77.8,180.8 76.3,181.4 72.8,183.9 71.3,184.4 70.3,185.4 67.8,186.4 65.3,188.4 63.8,188.9 59.9,192.3 60.3,193.3 61.6,193.3 63.4,195.3 64.4,197.3 64.9,199.3 65,266.8 43.3,266.8 43.3,139.8Z" fill="#878fa9"/><path d="M43.3,154.3L43.3,153.9 47.3,154 55.8,154.8 62.8,156.3 69.8,158.5 76.8,161.7 82.3,165.1 85.3,167.8 86.7,170.8 86.2,173.8 83.2,177.3 81.3,178.3 80.3,179.3 78.8,179.8 77.8,180.8 76.3,181.3 75.3,182.3 73.8,182.8 72.8,183.8 71.3,184.3 70.3,185.3 67.8,186.4 65.3,188.3 63.8,188.9 59.9,192.3 60.2,199.3 60.2,266.8 43.3,266.8 43.3,154.3Z" fill="#979eb5"/><path d="M43.3,161.8L43.3,161.3 44.8,161.3 53.8,161.9 60.3,163 66.8,164.6 72.8,166.8 78.3,169.6 81.8,172.2 82.9,174.3 82,176.8 79,179.8 76.3,181.3 75.3,182.3 73.8,182.8 72.8,183.8 71.3,184.3 70.3,185.3 67.8,186.3 65.3,188.3 63.8,188.9 59.8,192.3 60.1,266.8 43.3,266.8 43.3,161.8Z" fill="#a1a7bd"/><path d="M43.3,165.8L43.3,165.3 43.8,165.3 52.8,165.8 59.3,166.7 65.3,168.2 71.3,170.2 76.3,172.5 79.3,174.6 80.1,176.3 79,178.8 75.7,181.8 72.8,183.8 71.3,184.3 70.3,185.3 67.8,186.3 65.3,188.3 63.8,188.8 59.8,192.3 60,266.8 43.3,266.8 43.3,165.8Z" fill="#abb1c4"/><path d="M43.3,171.3L43.3,171 44.8,171 51.8,171.4 62.3,173.1 71.8,176.4 74.3,177.8 75.3,179.3 74.8,180.8 72.6,183.3 69.3,185.8 67.8,186.3 65.3,188.3 62.3,189.8 60.7,191.3 59.7,192.8 59.9,266.8 43.3,266.8 43.3,171.3Z" fill="#b6bbcb"/><path d="M43.3,175.8L51.3,175.9 60.3,177.4 68.3,180.1 70.2,181.3 70.8,182.3 70.6,183.3 69.4,184.8 60.8,191 59.5,192.8 59.7,266.8 43.3,266.8 43.3,175.8Z" fill="#c0c4d1"/><path d="M43.3,179.3L50.3,179.4 58.3,180.7 65,182.8 66.6,183.8 67.1,184.8 65.9,186.8 60.3,191.2 59.4,192.8 59.5,266.8 43.3,266.8 43.3,179.3Z" fill="#c8cbd6"/><path d="M43.3,182.8L48.8,182.8 55.8,183.9 61.3,185.6 62.6,186.3 63.2,187.3 62.5,188.8 59.8,191.3 59.1,192.8 59.3,199.3 59.3,266.8 43.3,266.8 43.3,182.8Z" fill="#d0d1da"/><path d="M43.3,185.3L43.3,184.9 46.3,184.9 52.8,185.7 58.3,187.2 60.7,188.8 58.8,192.8 59.1,199.8 59.1,266.8 43.3,266.8 43.3,185.3Z" fill="#d6d7dd"/><path d="M43.3,187.3L47.8,187.4 52.3,188.1 56.8,189.5 58.3,190.8 58.8,199.3 58.8,266.8 43.3,266.8 43.3,187.3Z" fill="#dadadf"/><path d="M43.3,189.3L48.8,189.5 54.3,191.1 56.8,192.8 58,195.8 58.4,199.8 58.4,266.8 43.3,266.8 43.3,189.3Z" fill="#dcdce1"/><path d="M43.3,190.8L48.3,191 52.8,192.4 55.8,194.4 57.3,197.3 57.6,199.8 57.6,266.8 43.3,266.8 43.3,190.8Z" fill="#dedee3"/><path d="M284.3,4.8L284.4,266.8M183.1,4.8L182.3,14.7 180.8,23.7 178.3,33.2 174.3,45.7 168.8,58.6 158.3,77.8 158.5,266.8M150.6,4.8L150.8,21.8 150.3,22.3 150.3,25.3 149.8,25.8 149.8,27.8 149.4,28.3 149.4,30.8 148.9,31.3 148.9,33.3 148.4,33.8 148.4,35.8 147.9,36.3 147.9,38.8 147.4,39.3 147.4,41.3 146.9,41.8 146.4,46.3 145.9,46.8 145.9,48.3 145.4,48.8 145.4,50.3 144.9,50.8 144.9,52.3 144.4,52.8 144.4,54.3 143.4,56.3 143.4,57.3 142.9,57.8 142.9,59.3 141.9,61.3 141.9,62.3 141.4,62.8 141.4,63.8 140.9,64.3 140.9,65.3 140.4,65.8 140.4,66.8 139.9,67.3 139.9,68.3 139.4,68.8 139.4,69.8 138.9,70.3 138.9,71.3 138.4,71.8 138.4,72.8 137.9,73.3 137.9,74.3 137.4,74.8 137.4,75.8 136.9,76.3 136.9,77.3 136.4,77.8 136.4,79.3 135.4,81.3 135.4,82.3 134.9,82.8 134.9,83.8 134.4,84.3 134.4,85.8 133.4,87.8 133.4,89.3 132.4,91.3 132.4,92.3 131.9,92.8 131.9,94.3 131.4,94.8 131.4,95.8 130.5,97.8 130.4,99.3 130,99.8 129,103.8 128.5,104.3 128.5,105.8 128,106.3 128,107.3 127.5,107.8 126.5,111.8 125.5,113.3 124.5,117.3 123.5,118.8 123.5,119.8 122.5,121.3 122.5,122.3 121.5,123.8 121.5,124.8 119.5,128.3 119.5,129.3 114.5,139.3 113.6,140.3 112.6,142.8 111.6,143.8 109.6,147.8 108.6,148.8 108.1,150.3 106.6,151.8 105.6,153.8 103.6,155.8 103.6,156.3 101.6,158.3 101.6,158.8 95.6,165.3 95.6,165.8 93.6,167.8 93.6,168.3 86.3,175.7 85.8,175.7 80.3,179.7 78.8,180.2 77.8,181.2 76.3,181.7 72.8,184.2 71.3,184.7 70.3,185.7 67.8,186.7 65.3,188.7 63.8,189.2 60.2,192.3 60.3,192.9 113.8,193.3 113.8,266.8M122,4.8L124.3,96.3 124.2,110.8 123.3,119.8 122.3,121.3 122.3,122.3 121.3,123.8 121.3,124.8 119.3,128.3 119.3,129.3 114.4,139.3 113.4,140.3 112.4,142.8 111.4,143.8 110.4,146.3 108.5,148.8 108,150.3 105.5,153.3 105.5,153.8 101.5,158.3 101.5,158.8 98.5,161.8 98.5,162.3 95.6,165.3 95.5,165.8 93.6,167.8 93.6,168.3 86.3,175.6 85.8,175.6 80.3,179.6 78.8,180.1 77.8,181.1 76.3,181.6 72.8,184.1 71.3,184.6 70.3,185.6 67.8,186.6 65.3,188.6 63.8,189.1 60.1,192.3 60.3,193 108.5,193.3 108.5,266.8M81.5,4.8L86.8,18.6 91.3,32.7 95.8,49.8 99.8,68.4 103.8,91.9 106.8,114.8 108.7,135.8 108.5,146.3 107.8,150.3 106.3,151.8 105.3,153.8 101.4,158.3 101.4,158.8 98.4,161.8 98.4,162.3 95.4,165.3 95.4,165.8 93.4,167.8 93.4,168.3 86.3,175.5 85.8,175.5 80.3,179.5 78.8,180 77.8,181 76.3,181.5 72.8,184 71.3,184.5 70.3,185.5 67.8,186.5 65.3,188.5 63.8,189 61,191.3 60,192.3 60,192.8 60.3,193.1 102.6,193.3 103.2,199.8 103.2,266.8M43.3,75.4L47.8,75.6 52.3,76.4 56.8,77.8 60.8,79.6 65.3,82.4 69.3,85.4 77.3,93.4 84.8,103.8 91.3,115.8 96.8,129.4 101.3,144.6 102.4,152.3 101.7,157.8 101.3,158.8 98.3,161.8 98.3,162.3 95.4,165.3 95.3,165.8 93.4,167.8 93.4,168.3 86.3,175.4 85.8,175.4 80.3,179.4 78.8,179.9 77.8,180.9 76.3,181.4 72.8,183.9 71.3,184.4 70.3,185.4 67.8,186.4 65.3,188.4 63.8,189 59.9,192.3 60.3,193.2 85.8,193.3 86.5,194.8 87.4,199.8 87.4,266.8M43.3,117.2L51.3,117.7 59.3,119.6 67.3,123 74.8,127.7 81.8,133.8 88.3,141.2 94.3,150.5 96.1,154.3 97,157.3 97,161.3 95.3,165.8 93.3,167.8 93.3,168.3 86.3,175.3 85.8,175.4 80.3,179.4 78.8,179.9 77.8,180.9 76.3,181.4 72.8,183.9 71.3,184.4 70.3,185.4 67.8,186.4 65.3,188.4 63.8,188.9 59.9,192.3 60.3,193.3 71.4,193.3 72.9,195.8 73.7,198.3 73.9,266.8M43.3,139.6L50.8,139.9 58.3,141.2 65.3,143.3 72.3,146.3 79.3,150.5 85.8,155.6 90.3,160.7 91.8,164.3 91.6,167.8 90.3,171.3 86.3,175.3 85.8,175.3 80.3,179.3 78.8,179.8 77.8,180.8 76.3,181.4 72.8,183.9 71.3,184.4 70.3,185.4 67.8,186.4 65.3,188.4 63.8,188.9 59.9,192.3 60.3,193.3 61.6,193.3 63.4,195.3 64.4,197.3 64.9,199.3 65,266.8M43.3,153.9L50.3,154.1 57.3,155.1 63.8,156.5 70.3,158.7 76.8,161.7 82.3,165.1 85.3,167.8 86.7,170.8 86.2,173.8 83.2,177.3 81.3,178.3 80.3,179.3 78.8,179.8 77.8,180.8 76.3,181.3 75.3,182.3 73.8,182.8 72.8,183.8 71.3,184.3 70.3,185.3 67.8,186.4 65.3,188.3 63.8,188.9 59.9,192.3 60.2,199.3 60.2,266.8M43.3,161.3L49.8,161.5 55.8,162.1 61.8,163.3 67.8,165 73.8,167.3 78.8,169.9 81.8,172.2 82.9,174.3 82,176.8 79,179.8 76.3,181.3 75.3,182.3 73.8,182.8 72.8,183.8 71.3,184.3 70.3,185.3 67.8,186.3 65.3,188.3 63.8,188.9 59.8,192.3 60.1,266.8M43.3,165.3L55.3,166.1 66.3,168.5 71.8,170.4 76.8,172.8 79.3,174.6 80.1,176.3 79,178.8 75.7,181.8 72.8,183.8 71.3,184.3 70.3,185.3 67.8,186.3 65.3,188.3 63.8,188.8 59.8,192.3 60,266.8M43.3,171L53.3,171.5 62.8,173.3 72.3,176.6 74.3,177.8 75.3,179.3 74.8,180.8 72.6,183.3 69.3,185.8 67.8,186.3 65.3,188.3 62.3,189.8 60.7,191.3 59.7,192.8 59.9,266.8M43.3,175.6L52.3,176 60.8,177.6 68.3,180.1 70.2,181.3 70.8,182.3 70.6,183.3 69.4,184.8 60.8,191 59.5,192.8 59.7,266.8M43.3,179.1L50.8,179.4 58.3,180.7 65,182.8 66.6,183.8 67.1,184.8 65.9,186.8 60.3,191.2 59.4,192.8 59.5,266.8M43.3,182.6L49.8,182.9 56.3,184 61.8,185.8 62.8,186.5 63.2,187.3 62.5,188.8 59.8,191.3 59.1,192.8 59.3,199.3 59.3,266.8M43.3,184.9L48.8,185.1 53.8,185.9 58.8,187.4 60.7,188.8 58.8,192.8 59.1,199.8 59.1,266.8M43.3,187.2L47.8,187.4 52.3,188.1 56.8,189.5 58.3,190.8 58.8,199.3 58.8,266.8M43.3,189.2L49.3,189.6 54.3,191.1 56.8,192.8 58,195.8 58.4,199.8 58.4,266.8M43.3,190.7L48.3,191 52.8,192.4 55.8,194.4 57.3,197.3 57.6,199.8 57.6,266.8" fill="none" stroke="#0c1020" stroke-opacity="0.6" stroke-width="0.8"/></g><path d="M183.9,4.8 L183.8,5.8 L183.8,6.8 L183.7,7.8 L183.6,8.8 L183.6,9.8 L183.5,10.8 L183.4,11.8 L183.3,12.8 L183.2,13.8 L183.1,14.8 L182.9,15.8 L182.8,16.8 L182.7,17.8 L182.5,18.8 L182.3,19.8 L182.1,20.8 L181.9,21.8 L181.7,22.8 L181.5,23.8 L181.3,24.8 L181,25.8 L180.8,26.8 L180.5,27.8 L180.2,28.8 L180,29.8 L179.7,30.8 L179.4,31.8 L179.1,32.8 L178.8,33.8 L178.5,34.8 L178.1,35.8 L177.8,36.8 L177.5,37.8 L177.2,38.8 L176.8,39.8 L176.5,40.8 L176.2,41.8 L175.8,42.8 L175.5,43.8 L175.1,44.8 L174.8,45.8 L174.4,46.8 L174,47.8 L173.7,48.8 L173.3,49.8 L172.8,50.8 L172.4,51.8 L172,52.8 L171.5,53.8 L171.1,54.8 L170.6,55.8 L170.1,56.8 L169.6,57.8 L169.1,58.8 L168.5,59.8 L168,60.8 L167.5,61.8 L166.9,62.8 L166.4,63.8 L165.8,64.8 L165.2,65.8 L164.6,66.8 L164.1,67.8 L163.5,68.8 L162.9,69.8 L162.3,70.8 L161.7,71.8 L161.1,72.8 L160.5,73.8 L159.9,74.8 L159.3,75.8 L158.7,76.8 L158.1,77.8 L157.5,78.8 L156.9,79.8 L156.3,80.8 L155.7,81.8 L155.1,82.8 L154.4,83.8 L153.8,84.8 L153.1,85.8 L152.4,86.8 L151.8,87.8 L151.1,88.8 L150.4,89.8 L149.7,90.8 L149,91.8 L148.3,92.8 L147.6,93.8 L147,94.8 L146.3,95.8 L145.6,96.8 L145,97.8 L144.4,98.8 L143.7,99.8 L143.1,100.8 L142.6,101.8 L142,102.8 L141.5,103.8 L140.9,104.8 L140.4,105.8 L139.9,106.8 L139.4,107.8 L138.8,108.8 L138.3,109.8 L137.8,110.8 L137.3,111.8 L136.8,112.8 L136.3,113.8 L135.7,114.8 L135.2,115.8 L134.7,116.8 L134.2,117.8 L133.6,118.8 L133.1,119.8 L132.6,120.8 L132,121.8 L131.5,122.8 L130.9,123.8 L130.3,124.8 L129.8,125.8 L129.2,126.8 L128.6,127.8 L128,128.8 L127.4,129.8 L126.8,130.8 L126.2,131.8 L125.6,132.8 L125,133.8 L124.4,134.8 L123.8,135.8 L123.2,136.8 L122.5,137.8 L121.9,138.8 L121.3,139.8 L120.6,140.8 L120,141.8 L119.3,142.8 L118.7,143.8 L118,144.8 L117.3,145.8 L116.7,146.8 L116,147.8 L115.3,148.8 L114.6,149.8 L113.9,150.8 L113.1,151.8 L112.3,152.8 L111.5,153.8 L110.7,154.8 L109.8,155.8 L108.9,156.8 L108,157.8 L107.1,158.8 L106.2,159.8 L105.2,160.8 L104.3,161.8 L103.3,162.8 L102.4,163.8 L101.5,164.8 L100.5,165.8 L99.6,166.8 L98.7,167.8 L97.8,168.8 L96.9,169.8 L95.9,170.8 L94.8,171.8 L93.7,172.8 L92.5,173.8 L91.2,174.8 L89.8,175.8 L88.2,176.8 L86.6,177.8 L84.8,178.8 L83.1,179.8 L81.3,180.8 L79.5,181.8 L77.7,182.8 L75.9,183.8 L74,184.8 L72,185.8 L69.9,186.8 L67.9,187.8 L65.9,188.8 L63.9,189.8 L62,190.8 L60.8,191.8 L60.2,192.8" fill="none" stroke="#15182a" stroke-width="2.2" filter="url(#bl1)"/><path d="M151.8,4.8 L151.8,5.8 L151.8,6.8 L151.8,7.8 L151.8,8.8 L151.7,9.8 L151.7,10.8 L151.6,11.8 L151.5,12.8 L151.5,13.8 L151.4,14.8 L151.3,15.8 L151.2,16.8 L151.1,17.8 L150.9,18.8 L150.8,19.8 L150.7,20.8 L150.5,21.8 L150.4,22.8 L150.2,23.8 L150.1,24.8 L149.9,25.8 L149.8,26.8 L149.6,27.8 L149.4,28.8 L149.2,29.8 L149,30.8 L148.9,31.8 L148.7,32.8 L148.5,33.8 L148.3,34.8 L148.1,35.8 L147.9,36.8 L147.7,37.8 L147.5,38.8 L147.3,39.8 L147.1,40.8 L146.9,41.8 L146.7,42.8 L146.5,43.8 L146.3,44.8 L146.1,45.8 L145.9,46.8 L145.7,47.8 L145.5,48.8 L145.2,49.8 L145,50.8 L144.7,51.8 L144.4,52.8 L144.2,53.8 L143.9,54.8 L143.6,55.8 L143.3,56.8 L143,57.8 L142.7,58.8 L142.4,59.8 L142.1,60.8 L141.7,61.8 L141.4,62.8 L141.1,63.8 L140.8,64.8 L140.4,65.8 L140.1,66.8 L139.8,67.8 L139.4,68.8 L139.1,69.8 L138.8,70.8 L138.4,71.8 L138.1,72.8 L137.8,73.8 L137.5,74.8 L137.1,75.8 L136.8,76.8 L136.5,77.8 L136.2,78.8 L135.9,79.8 L135.6,80.8 L135.2,81.8 L134.9,82.8 L134.6,83.8 L134.3,84.8 L134,85.8 L133.7,86.8 L133.5,87.8 L133.2,88.8 L132.9,89.8 L132.6,90.8 L132.3,91.8 L132,92.8 L131.7,93.8 L131.4,94.8 L131.1,95.8 L130.8,96.8 L130.5,97.8 L130.2,98.8 L129.9,99.8 L129.6,100.8 L129.3,101.8 L129,102.8 L128.7,103.8 L128.3,104.8 L128,105.8 L127.7,106.8 L127.4,107.8 L127,108.8 L126.7,109.8 L126.4,110.8 L126,111.8 L125.7,112.8 L125.3,113.8 L125,114.8 L124.6,115.8 L124.2,116.8 L123.8,117.8 L123.5,118.8 L123.1,119.8 L122.7,120.8 L122.3,121.8 L121.9,122.8 L121.4,123.8 L121,124.8 L120.6,125.8 L120.2,126.8 L119.7,127.8 L119.3,128.8 L118.8,129.8 L118.3,130.8 L117.8,131.8 L117.4,132.8 L116.9,133.8 L116.4,134.8 L115.9,135.8 L115.3,136.8 L114.8,137.8 L114.3,138.8 L113.7,139.8 L113.2,140.8 L112.6,141.8 L112.1,142.8 L111.5,143.8 L110.9,144.8 L110.3,145.8 L109.7,146.8 L109.1,147.8 L108.5,148.8 L107.8,149.8 L107.2,150.8 L106.5,151.8 L105.8,152.8 L105,153.8 L104.3,154.8 L103.5,155.8 L102.7,156.8 L101.8,157.8 L101,158.8 L100.2,159.8 L99.3,160.8 L98.4,161.8 L97.6,162.8 L96.7,163.8 L95.9,164.8 L95.1,165.8 L94.2,166.8 L93.4,167.8 L92.6,168.8 L91.8,169.8 L90.9,170.8 L90,171.8 L89,172.8 L87.9,173.8 L86.7,174.8 L85.4,175.8 L83.9,176.8 L82.4,177.8 L80.8,178.8 L79.2,179.8 L77.5,180.8 L75.9,181.8 L74.2,182.8 L72.6,183.8 L70.9,184.8 L69.2,185.8 L67.5,186.8 L65.8,187.8 L64.3,188.8 L62.6,189.8 L61.2,190.8 L60.2,191.8 L59.7,192.8 L59.6,193.8 L59.8,194.8 L60.3,195.8 L61.1,196.8 L62.1,197.8 L63.2,198.8 L64.6,199.8 L66.1,200.8 L67.5,201.8 L68.5,202.8 L69.5,203.8 L70.4,204.8 L71.2,205.8 L72.1,206.8 L72.8,207.8 L73.6,208.8 L74.4,209.8 L75.3,210.8 L76.1,211.8 L76.9,212.8 L77.7,213.8 L78.5,214.8 L79.2,215.8 L80,216.8 L80.8,217.8 L81.5,218.8 L82.3,219.8 L83,220.8 L83.8,221.8 L84.5,222.8 L85.3,223.8 L86,224.8 L86.7,225.8 L87.4,226.8 L88.1,227.8 L88.8,228.8 L89.5,229.8 L90.1,230.8 L90.8,231.8 L91.4,232.8 L92.1,233.8 L92.7,234.8 L93.3,235.8 L94,236.8 L94.6,237.8 L95.2,238.8 L95.8,239.8 L96.4,240.8 L97,241.8 L97.5,242.8 L98.1,243.8 L98.7,244.8 L99.2,245.8 L99.8,246.8 L100.3,247.8 L100.9,248.8 L101.4,249.8 L101.9,250.8 L102.4,251.8 L102.9,252.8 L103.4,253.8 L103.9,254.8 L104.4,255.8 L104.8,256.8 L105.3,257.8 L105.8,258.8 L106.2,259.8 L106.7,260.8 L107.1,261.8 L107.5,262.8 L107.9,263.8 L108.3,264.8 L108.7,265.8 L109.1,266.8" fill="none" stroke="#111" stroke-width="1.7"/><path d="M60,193.4 L62,193.4 L64,193.5 L66,193.5 L68,193.5 L70,193.6 L72,193.7 L74,193.7 L76,193.8 L78,193.9 L80,193.9 L82,194 L84,194.1 L86,194.2 L88,194.2 L90,194.3 L92,194.4 L94,194.5 L96,194.5 L98,194.6 L100,194.7 L102,194.8 L104,194.9 L106,195 L108,195.1 L110,195.2 L112,195.3 L114,195.4 L116,195.4 L118,195.5 L120,195.6 L122,195.7 L124,195.8 L126,195.9 L128,196 L130,196.1 L132,196.2 L134,196.2 L136,196.4 L138,196.5 L140,196.6 L142,196.7 L144,196.8 L146,197 L148,197.1 L150,197.2 L152,197.3 L154,197.4 L156,197.6 L158,197.7 L160,197.8 L162,198 L164,198.1 L166,198.2 L168,198.3 L170,198.5 L172,198.6 L174,198.7 L176,198.8 L178,199 L180,199.1 L182,199.2 L184,199.3 L186,199.5 L188,199.6 L190,199.7 L192,199.8 L194,199.9 L196,200 L198,200.1 L200,200.2 L202,200.3 L204,200.4 L206,200.6 L208,200.7 L210,200.8 L212,200.9 L214,201.1 L216,201.3 L218,201.4 L220,201.6 L222,201.8 L224,201.9 L226,202.1 L228,202.3 L230,202.4 L232,202.6 L234,202.8 L236,203 L238,203.1 L240,203.3 L242,203.5 L244,203.7 L246,203.8 L248,204 L250,204.2 L252,204.3 L254,204.5 L256,204.7 L258,204.8 L260,205 L262,205.2 L264,205.3 L266,205.5 L268,205.7 L270,205.8 L272,206 L274,206.2 L276,206.3 L278,206.4 L280,206.5 L282,206.6 L284,206.7 L286,206.7 L288,206.8 L290,206.9 L292,206.9 L294,207 L296,207.1 L298,207.1 L300,207.2 L302,207.2 L304,207.2 L306,207.3 L308,207.3" fill="none" stroke="#fff" stroke-width="2.6"/><rect x="44.3" y="191.6" width="264.3" height="2.6" fill="#cc1c20"/></g></svg><svg class="pl" width="675" height="302" viewBox="0 0 675 302"><defs><clipPath id="cRt"><rect x="411" y="5" width="260.8" height="260"/></clipPath></defs><g clip-path="url(#cRt)"><rect x="410" y="4" width="262.8" height="262" fill="#2a3047"/><path d="M410,4L672.5,4 672.5,265.5 410,265.5 410,4Z" fill="#2a3047"/><path d="M410,4L672.5,4 672.5,265.5 410,265.5 410,4Z" fill="#2a3047"/><path d="M410,4L672.5,4 672.5,265.5 410,265.5 410,4Z" fill="#2a3047"/><path d="M410,4L672.5,4 672.5,265.5 410,265.5 410,4Z" fill="#2a3047"/><path d="M410,4L672.5,4 672.5,265.5 410,265.5 410,4Z" fill="#2a3047"/><path d="M410,4L672.5,4 672.5,265.5 410,265.5 410,4Z" fill="#2a3047"/><path d="M410,4L672.5,4 672.5,265.5 410,265.5 410,4Z" fill="#2a3047"/><path d="M410,4L672.5,4 672.5,265.5 410,265.5 410,4Z" fill="#2a3047"/><path d="M410,4L672.5,4 672.5,265.5 410,265.5 410,4Z" fill="#2a3047"/><path d="M410,4L672.5,4 672.5,265.5 410,265.5 410,4Z" fill="#2a3047"/><path d="M410,4L672.5,4 672.5,265.5 410,265.5 410,4Z" fill="#2b3148"/><path d="M410,4L672.5,4 672.5,265.5 410,265.5 410,4Z" fill="#2b3148"/><path d="M410,4L672.5,4 672.5,265.5 410,265.5 410,4Z" fill="#2c3249"/><path d="M410,4L672.5,4 672.5,265.5 410,265.5 410,4Z" fill="#2d334a"/><path d="M410,4L672.5,4 672.5,265.5 410,265.5 410,4Z" fill="#2d334a"/><path d="M410,4L672.5,4 672.5,265.5 410,265.5 410,4Z" fill="#2e344b"/><path d="M410,4L672.5,4 672.5,265.5 410,265.5 410,4Z" fill="#2e344b"/><path d="M410,4L672.5,4 672.5,265.5 410,265.5 410,4Z" fill="#2f354c"/><path d="M410,4L672.5,4 672.5,265.5 410,265.5 410,4Z" fill="#2f354c"/><path d="M410,4L672.5,4 672.5,265.5 410,265.5 410,4Z" fill="#30364d"/><path d="M410,4L672.5,4 672.5,265.5 410,265.5 410,4Z" fill="#31374e"/><path d="M410,4L672.5,4 672.5,265.5 410,265.5 410,4Z" fill="#31374e"/><path d="M410,4L672.5,4 672.5,265.5 410,265.5 410,4Z" fill="#32384f"/><path d="M410,4L672.5,4 672.5,265.5 410,265.5 410,4Z" fill="#32384f"/><path d="M410,4L672.5,4 672.5,265.5 410,265.5 410,4Z" fill="#333950"/><path d="M410,4L672.5,4 672.5,265.5 410,265.5 410,4Z" fill="#343a51"/><path d="M410,4L672.5,4 672.5,265.5 410,265.5 410,4Z" fill="#353b53"/><path d="M410,4L668.2,4 672.5,7.2 672.5,265.5 410,265.5 410,4Z" fill="#373d54"/><path d="M410,4L661.1,4 672.5,12.6 672.5,265.5 410,265.5 410,4Z" fill="#383e56"/><path d="M410,4L654,4 672.5,18 672.5,265.5 410,265.5 410,4Z" fill="#3a4057"/><path d="M410,4L646.9,4 672.5,23.4 672.5,265.5 410,265.5 410,4Z" fill="#3b4159"/><path d="M410,4L639.8,4 672.5,28.7 672.5,265.5 412.6,265.5 410,263.4 410,4Z" fill="#3c425a"/><path d="M410,4L632.8,4 672.5,34.1 672.5,265.5 418.5,265.5 410,258.5 410,4Z" fill="#3e445c"/><path d="M410,4L625.7,4 672.5,39.5 672.5,265.5 424.6,265.5 410,253.6 410,4Z" fill="#3f455d"/><path d="M410,4L618.8,4 672.5,44.9 672.5,265.5 430.7,265.5 410,248.7 410,4Z" fill="#41475f"/><path d="M410,4L611.9,4 672.5,50.2 672.5,265.5 436.8,265.5 410,243.7 410,4Z" fill="#434961"/><path d="M410,4L605.1,4 630,23.5 672.5,55.6 672.5,265.5 442.9,265.5 410,238.8 410,4Z" fill="#454b63"/><path d="M410,4L598.2,4 627.5,27 672.5,60.9 672.5,265.5 449,265.5 429,249.7 410,233.9 410,4Z" fill="#474d65"/><path d="M410,4L591.2,4 625.5,30.9 672.5,66.3 672.5,265.5 455.2,265.5 431.6,247 410,229.1 410,4Z" fill="#494f67"/><path d="M410,4L584.1,4 624.5,35.5 672.5,71.6 672.5,265.5 461.3,265.5 435.1,245 410,224.3 410,4Z" fill="#4c526a"/><path d="M410,4L576.9,4 626.5,42.5 672.5,76.9 672.5,265.5 467.5,265.5 438.5,242.9 410,219.6 410,4Z" fill="#4e546c"/><path d="M410,4L569.5,4 583,13.9 631,51.3 672.5,82.2 672.5,265.5 473.7,265.5 441.6,240.5 410,215 410,4Z" fill="#51576f"/><path d="M410,4L561.9,4 577.3,15 624.2,51.5 672.5,87.5 672.5,265.5 479.9,265.5 447,240 419,217 410,210.3 410,4Z" fill="#545a72"/><path d="M410,4L554.2,4 574,17.9 623.5,56.4 672.5,92.8 672.5,265.5 486.2,265.5 452.5,239.5 421,213.8 410,205.6 410,4Z" fill="#585e76"/><path d="M410,4L546.5,4 570,20.2 623.8,62 672.5,98 672.5,265.5 492.4,265.5 449.5,232.4 423,210.6 410,201 410,4Z" fill="#5b6179"/><path d="M410,4L538.6,4 567,23.3 623.5,67.2 654,90 672.5,103.2 672.5,265.5 498.7,265.5 455,231.9 425.5,207.8 410,196.3 410,4Z" fill="#5e647c"/><path d="M410,4L530.6,4 547,14.6 563.4,26 623.5,72.6 653.5,95 672.5,108.4 672.5,265.5 505,265.5 458.7,230 427.5,204.6 410,191.7 410,4Z" fill="#62687f"/><path d="M410,4L522.4,4 541.5,16.1 559.6,28.5 623.6,78 652.5,99.6 672.5,113.6 672.5,265.5 511.3,265.5 463.5,229 429.6,201.5 410,187.1 410,4Z" fill="#656b82"/><path d="M410,4L514.1,4 535.5,17.2 556.4,31.5 623.5,83.3 651.5,104.2 672.5,118.9 672.5,265.5 517.6,265.5 467.7,227.5 432,198.6 410,182.5 410,4Z" fill="#696e84"/><path d="M410,4L505.7,4 529.5,18.4 553,34.3 590.5,63.6 627.9,92 651.5,109.5 672.5,124.1 672.5,265.5 523.9,265.5 472.6,226.5 434.1,195.5 410,177.9 410,4Z" fill="#6d7186"/><path d="M410,4L497.1,4 523.5,19.7 549.5,37.1 591.8,70 629.5,98.6 650.5,114.1 672.5,129.3 672.5,265.5 530.3,265.5 477.4,225.5 436.4,192.5 410,173.3 410,4Z" fill="#707489"/><path d="M410,4L488.3,4 517.5,20.9 546.5,40.2 590.6,74.5 629,103.6 649.5,118.6 672.5,134.4 672.5,265.5 536.8,265.5 482.5,224.7 438.5,189.4 410,168.7 410,4Z" fill="#74778a"/><path d="M410,4L479.3,4 481,4.9 496.8,13.5 511.9,22.5 543,43 555,51.9 590.5,79.9 628.4,108.5 648,122.8 672.5,139.6 672.5,265.5 543.3,265.5 521.5,249.6 487.5,223.8 465.5,206.6 440.9,186.5 410,164.1 410,4Z" fill="#767a89"/><path d="M410,4L469.7,4 482,10.1 511.9,27.5 541.3,47 586.9,82.5 626.5,112.5 646.5,127 672.5,144.8 672.5,265.5 549.8,265.5 528,249.7 493.5,223.6 468.3,204 443,183.3 410,159.5 410,4Z" fill="#7a7c89"/><path d="M410,4L459.4,4 472,9.7 485.8,17 512,32.6 539,50.6 584,85.7 625,116.7 644.5,130.9 672.5,150 672.5,265.5 556.5,265.5 534,249.5 500,223.9 471.2,201.5 445,180.1 410,154.9 410,4Z" fill="#7c7e89"/><path d="M410,4L448.3,4 467.5,12.1 490.5,24.5 514,38.9 537,54.5 581.5,89.2 623.5,121 642.5,134.7 672.5,155.2 672.5,265.5 563.2,265.5 545.5,253.2 524,237.3 479.5,203.2 448,177.7 410,150.3 410,4Z" fill="#808188"/><path d="M410,4L437,4.1 452.5,10 463,14.6 475.5,20.9 493,30.9 514,44 535.3,58.5 578.1,92 621.5,124.8 640.5,138.6 672.5,160.4 672.5,265.5 570,265.5 551,252.5 530,237.1 484,202 450,174.5 410,145.7 410,4Z" fill="#828386"/><path d="M410,4L424.2,4 426,5 442.5,10.3 455,15.4 467.6,21.5 497.5,38.6 515.5,50.1 533,62.2 575.6,95.5 619.9,129 638.6,142.5 672.5,165.6 672.5,265.5 576.8,265.5 556.1,251.5 535,236.1 487.6,200 452.3,171.5 410,141.2 410,4Z" fill="#858483"/><path d="M410,4L414.8,4 424,8.4 436.5,12.3 455,20 474,29.7 502,46.4 518.8,57.5 533,67.5 576,101.2 624,137.3 672.5,170.7 672.5,265.5 583.7,265.5 561,250.3 540,235.2 491.5,198.2 454.5,168.5 410,136.6 410,4Z" fill="#888680"/><path d="M410,7L410,6.6 412.8,7.5 422,11.8 436.3,16.5 456.5,25.3 478,36.9 502.8,52 531.2,71.5 572.5,104 621,140.5 672.5,175.9 672.5,265.5 590.7,265.5 565.8,249 544.5,233.8 495,196.2 456.8,165.5 410,132 410,7Z" fill="#89877e"/><path d="M410,8L410,7.6 414.5,9.2 421.5,12.7 436,17.5 456,26.2 476.5,37.2 502,52.8 530.5,72.3 571.5,104.5 620.5,141.4 672.5,177.2 672.5,265.5 592.5,265.5 567,248.7 545.5,233.4 495.6,195.5 457.5,164.8 410,130.9 410,8Z" fill="#8a887c"/><path d="M410,11L414,12.3 420,15.3 435,20.3 456.5,29.9 478,41.8 502,56.6 529,75.2 568.8,106.5 618,143.6 672.5,181.2 672.5,265.5 597.8,265.5 571,248 548.5,232.1 498.3,194 459,162.4 410,127.4 410,11Z" fill="#8c897a"/><path d="M410,14L418,17.7 434.7,23.5 454.6,32.5 475.5,44 501,59.8 526.7,77.5 568,110 616.5,146.5 672.5,185 672.5,265.5 603.2,265.5 576.5,248.3 551.5,230.7 501,192.5 460.5,160 410,123.9 410,14Z" fill="#8e8a77"/><path d="M410,17.5L412,18.1 416.5,20.4 432,25.7 454,35.7 475.2,47.5 499.5,62.6 525,80.2 565.5,112.1 614.5,149 672.5,188.9 672.5,265.5 608.6,265.5 582,248.6 554.6,229.5 503.5,190.9 462.5,158 410,120.5 410,17.5Z" fill="#918b74"/><path d="M410,21L410,20.6 415,23.1 430.7,28.5 452,38.3 473.1,50 498,65.5 523.3,83 563.9,115 613,151.9 630.5,164.3 672.5,192.8 672.5,265.5 614.2,265.5 587.5,248.8 558,228.5 506,189.2 464,155.6 410,117 410,21Z" fill="#948c70"/><path d="M410,24L413.5,25.8 422.5,28.6 430.5,31.8 451.4,41.5 472.8,53.5 498,69.3 521.5,85.7 562,117.6 611,154.5 629.5,167.5 672.5,196.6 672.5,265.5 619.9,265.5 616,263.3 589.1,246.5 559.5,226.1 507.8,187 465.5,153.2 410,113.6 410,24Z" fill="#978d6d"/><path d="M410,27.5L427.5,33.9 451,44.9 472,56.8 496.2,72 519.5,88.2 560,120.1 609.5,157.4 628.5,170.8 672.5,200.5 672.5,265.5 625.9,265.5 614.5,259.1 588.2,242.5 560.5,223.3 509,184.4 467.3,151 410,110.1 410,27.5Z" fill="#9a8e69"/><path d="M410,31.5L410,31.2 414.5,32.5 424.2,36 447,46.4 469.5,59 494,74.4 517.5,90.7 558.5,123 608,160.3 627.5,174 672.5,204.3 672.5,265.5 632.5,265.5 624,261.3 612.5,254.6 586.5,238 561,220.2 510,181.6 469,148.7 410,106.6 410,31.5Z" fill="#9d8f65"/><path d="M410,35L410,34.5 412.5,35.2 423,39 446,49.5 467.4,61.5 492.9,77.5 515.5,93.2 557,125.9 606.3,163 626,176.9 672.5,208.2 672.5,265.5 639.7,265.5 626,259.2 609.5,249.5 584,232.9 561.5,217 511.3,179 470.5,146.3 410,103.1 410,35Z" fill="#a19160"/><path d="M410,38L424.1,43 447,53.7 468.5,66 493,81.5 514,96.2 554.4,128 604,165.3 622.7,178.5 672.5,212.2 672.5,265.5 648.3,265.5 646.5,264.9 638,261.8 629,257.5 606.9,244.5 581.5,227.8 561.5,213.5 512,176 472.5,144.3 410,99.6 410,38Z" fill="#a5925c"/><path d="M410,41.5L417.5,43.9 426,47.3 446.4,57 467.5,69.1 491.5,84.3 512,98.6 552.5,130.5 602,167.8 672.5,216.2 672.5,265.5 656.6,265.5 652.5,263.7 642,260.2 626.5,252.9 602.8,238.5 581,223.9 561.5,209.9 512.9,173 474,141.8 410,95.9 410,41.5Z" fill="#a99457"/><path d="M410,45L417,47.2 425.5,50.6 445.5,60 467,72.3 490.5,87.2 510.2,101 550.1,132.5 600,170 619.5,183.8 664.3,214 672,219.7 672.5,220.1 672.5,262.3 667,263.6 661,263.4 643,257.4 628,250.3 603,235 581.5,220.6 562,206.6 513.9,170 476,139.5 429,106 410,92 410,45Z" fill="#b09552"/><path d="M410,48L416.5,49.9 424.5,53 443.5,61.8 465.5,74.3 489,89.1 509,103.1 548.5,134.3 598,171.5 669.5,220.9 672.5,223.4 672.5,259.5 667,261 661.5,260.8 643,254.7 629,248.1 603.5,232.5 582.5,218.4 562,203.6 515,167.8 477.5,137.7 431.1,104.5 410.4,89 410,88.7 410,48Z" fill="#b6964e"/><path d="M410,50.5L414.5,51.5 424,55 443.6,64 464.8,76 488.5,91 507.8,104.5 547.5,135.8 597,173 667,221.3 672.5,226 672.5,257.3 667.5,258.9 662.5,259 644,253.1 629.5,246.2 604.5,231 583.5,216.9 563,202.1 515.6,166 479,136.5 433.6,104 414,89.4 410,86.1 410,50.5Z" fill="#be9a49"/><path d="M410,53L414.5,53.9 423.5,57 442,65.3 464,77.7 487,92.2 507,106.2 546.8,137.5 595.9,174.5 665.4,222.5 672.5,228.8 672.5,254.9 668,256.7 663,256.9 645.5,251.7 638,248.5 630.5,244.7 606.5,230.1 584.7,215.5 564,200.6 517,164.8 480,135 420,91.5 410,83.4 410,53Z" fill="#c69d44"/><path d="M410,56L410,55.5 413.5,56.2 422,58.9 440.5,66.8 461.7,78.5 485,93.1 505.8,107.5 545.5,138.8 594.9,176 661.5,222 672.5,231.4 672.5,252.3 667.7,254.5 662.5,254.6 647,250.2 635,245 620.1,236.5 601.2,224.5 582,211.4 561.5,196.5 515.5,161.3 481.7,134 432.5,98.5 418.5,87.7 410.5,80.9 410,80.5 410,56Z" fill="#cfa23f"/><path d="M410,59L415,59.5 424.5,62.3 434.5,66.3 445,71.4 473,87.6 501,106.3 544,139.9 590,174.6 663,225.7 672.5,234.6 672.5,249.1 668.5,251.8 666,252.4 663.5,252.4 659.5,251.1 649.5,248.9 639,244.8 628.5,239.3 613,230 593.2,217 576.5,205.3 524.5,166 482.5,132.3 436,98.6 416,82.8 410,77 410,59Z" fill="#d8a73b"/><path d="M412.4,63L418,63.4 425,65.2 434,68.6 444.5,73.5 470.5,88.3 498.5,106.7 543.8,142 588.2,175.5 606.5,188.7 645.5,215.4 661,226.7 666,231.5 671.9,238.5 672.5,240.2 672.5,243.5 671.2,246.5 668,249.1 664,249.7 661,248.8 656,248.3 651,247.2 640.5,243.4 631.5,238.9 617,230.3 583.4,208 529.5,167.6 483.2,130.5 440.6,99.5 423.4,86 415.2,78.5 410,72.1 410,63.6 412.4,63Z" fill="#e1ad38"/><path d="M416.9,68L421,67.7 427,68.9 434.5,71.4 443.6,75.5 455.5,81.8 469.5,89.9 497,107.9 544,144.5 587,176.9 605,189.9 643.5,216.3 656.7,226 663.5,232.4 665.5,235.1 667,238.2 668.3,239.5 669,242 668.1,244.5 666.9,245.5 665,246.1 662.5,245.6 659,246 655.5,245.8 648,244 640,241 630.5,236.2 618,228.8 586.5,208 542.5,175.3 511.5,151.2 485,129.6 446,101 431,89.3 422,81.2 416.7,75 415.6,73 415,70.5 415.6,69 416.9,68Z" fill="#eab336"/><path d="M426.4,73L431.5,73.7 437.5,75.6 453.2,83 474.8,95.5 497.4,110.5 540,143.7 584.5,177.3 603.5,191 639.8,216 652.6,225.5 657.8,230 661.5,234.5 662.8,238 662.8,239.5 662.1,241 660.5,242.2 658.5,242.9 653.5,242.9 646,241.1 637.5,237.6 627,232 614,224.1 583.5,203.6 538.5,170 512,149.3 486.5,128.4 450.8,102 438.1,92 429.5,84.3 424.6,78.5 423.4,76 423.5,74.5 424.4,73.5 426.4,73Z" fill="#f5be37"/><path d="M426.4,73L431.5,73.7 437.5,75.6 444.2,78.5 453.2,83 474.8,95.5 497.4,110.5 540,143.7 584.5,177.3 603.5,191 639.8,216 652.6,225.5 657.8,230 661.5,234.5 662.8,238 662.8,239.5 662.1,241 660.5,242.2 658.5,242.9 653.5,242.9 646,241.1 637.5,237.6 627,232 614,224.1 583.5,203.6 538.5,170 512,149.3 486.5,128.4 450.8,102 438.1,92 429.5,84.3 424.6,78.5 423.4,76 423.5,74.5 424.4,73.5 426.4,73M416.9,68L421,67.7 427,68.9 434.5,71.4 443.6,75.5 455.5,81.8 469.5,89.9 483.8,99 497,107.9 506.5,115 544,144.5 587,176.9 605,189.9 643.5,216.3 656.7,226 663.5,232.4 665.5,235.1 667,238.2 668.3,239.5 669,242 668.1,244.5 666.9,245.5 665,246.1 662.5,245.6 659,246 655.5,245.8 648,244 640,241 630.5,236.2 618,228.8 586.5,208 542.5,175.3 511.5,151.2 485,129.6 446,101 431,89.3 422,81.2 416.7,75 415.6,73 415,70.5 415.6,69 416.9,68M410,63.6L411.5,63.1 414.5,62.9 421,64 429,66.6 438.5,70.5 449,75.8 461.7,83 488.7,100 504.3,111 542,140.7 590.5,177.2 606,188.3 642.5,213.3 658,224.3 666,231.5 668.5,234.7 671,237 672.5,240.2M672.5,243.5L671.8,245.5 670.3,247.5 668.5,248.8 666,249.6 663.5,249.6 661,248.8 655.5,248.2 650,246.9 642,244 633.5,240 621,232.8 606,223.3 585,209.1 562.9,193 517.1,158 483.5,130.8 434,94.5 418.3,81.5 413,76.1 410,72.1M410,58.8L415,59.5 423,61.8 431.5,65 441.5,69.6 463.8,82 488.3,97.5 505.4,109.5 543.5,139.5 592.5,176.5 608,187.5 659.6,223 664.6,227 670,232.6 672.5,234.6M672.5,249.1L669,251.6 664.5,252.4 662,252.1 659.5,251.1 653,249.9 646.5,247.9 638.5,244.6 630,240.2 617.8,233 603.7,224 578.5,206.7 545,181.8 509.8,154.5 482.5,132.3 440.6,102 426.7,91.5 416.8,83.5 410,77M410,55.5L416,56.9 424.5,59.8 433.5,63.5 442,67.6 463.5,79.6 488.5,95.4 506,107.7 541.9,136 590,172.4 609.5,186.4 659.5,220.5 666,225.5 672.5,231.4M672.5,252.3L668,254.4 663.5,254.8 651.5,251.6 645.5,249.6 637,246 629.5,242 604,226.3 581.5,211.1 556.5,192.7 513,159.4 481.7,134 432.5,98.5 418.5,87.7 410,80.5M410,52.7L417,54.7 425,57.6 443.5,66.1 465.4,78.5 489.5,93.9 507.4,106.5 543,134.6 592,171.6 610.7,185 661.3,219.5 667,223.8 672.5,228.8M672.5,254.9L668,256.7 663,256.9 650.5,253.4 644,251.1 636,247.6 628.4,243.5 603.5,228.2 582,213.6 560,197.6 514.5,162.8 480.5,135.4 430.6,99.5 410,83.4M410,50.2L416.1,52 425.5,55.6 443.6,64 466.5,77 490,92 508,104.6 546,134.6 594.9,171.5 613.5,184.8 662.5,218 672.5,226M672.5,257.3L667.5,258.9 662.5,259 659.5,258.3 656,256.8 644,253.1 636,249.6 629.5,246.2 618,239.5 603.8,230.5 582.5,216.2 561.6,201 515,165.5 479,136.5 431,102.1 410,86.1M410,47.9L416.5,49.9 426,53.6 445,62.6 467,75.2 491,90.5 509,103.1 547.5,133.5 597,170.8 616.3,184.5 663.5,216.5 672.5,223.4M672.5,259.5L667,261 661.5,260.8 643,254.7 629,248.1 603.5,232.5 582.5,218.4 562,203.6 515,167.8 477.5,137.7 431.1,104.5 410,88.7" fill="none" stroke="#5a4010" stroke-opacity="0.5" stroke-width="0.6"/><path d="M410,66.8 L412,68.1 L414,69.3 L416,70.6 L418,71.9 L420,73.1 L422,74.4 L424,75.7 L426,77 L428,78.4 L430,79.7 L432,81 L434,82.3 L436,83.7 L438,85 L440,86.3 L442,87.7 L444,89.1 L446,90.4 L448,91.8 L450,93.2 L452,94.5 L454,95.9 L456,97.3 L458,98.7 L460,100.1 L462,101.5 L464,102.9 L466,104.3 L468,105.7 L470,107.2 L472,108.6 L474,110 L476,111.4 L478,112.9 L480,114.3 L482,115.7 L484,117.2 L486,118.6 L488,120.1 L490,121.5 L492,122.9 L494,124.4 L496,125.9 L498,127.3 L500,128.8 L502,130.2 L504,131.7 L506,133.1 L508,134.6 L510,136.1 L512,137.5 L514,139 L516,140.5 L518,141.9 L520,143.4 L522,144.9 L524,146.3 L526,147.8 L528,149.3 L530,150.7 L532,152.2 L534,153.7 L536,155.1 L538,156.6 L540,158.1 L542,159.5 L544,161 L546,162.4 L548,163.9 L550,165.4 L552,166.8 L554,168.3 L556,169.7 L558,171.2 L560,172.6 L562,174.1 L564,175.5 L566,176.9 L568,178.4 L570,179.8 L572,181.2 L574,182.7 L576,184.1 L578,185.5 L580,186.9 L582,188.3 L584,189.7 L586,191.1 L588,192.5 L590,193.9 L592,195.3 L594,196.7 L596,198.1 L598,199.5 L600,200.9 L602,202.2 L604,203.6 L606,204.9 L608,206.3 L610,207.6 L612,209 L614,210.3 L616,211.6 L618,213 L620,214.3 L622,215.6 L624,216.9 L626,218.2 L628,219.5 L630,220.8 L632,222 L634,223.3 L636,224.6 L638,225.8 L640,227.1 L642,228.3 L644,229.5 L646,230.8 L648,232 L650,233.2 L652,234.4 L654,235.6 L656,236.8 L658,237.9 L660,239.1 L662,240.2 L664,241.4 L669.8,245.2" fill="none" stroke="#fffbea" stroke-width="2.4" stroke-linecap="round"/><circle cx="476.9" cy="110.9" r="3.8" fill="#0a0b3a"/><circle cx="614.7" cy="210.9" r="3.8" fill="#0a0b3a"/><polygon points="664.8,235.5 666.6,239.6 671,240 667.7,242.9 668.6,247.3 664.8,245 661,247.3 661.9,242.9 658.6,240 663,239.6" fill="#050505"/></g></svg><svg class="pl" width="675" height="302" viewBox="0 0 675 302"><defs><linearGradient id="cbL" x1="0" y1="1" x2="0" y2="0"><stop offset="0" stop-color="#262b40"/><stop offset="0.2" stop-color="#4a5270"/><stop offset="0.4" stop-color="#8a90a8"/><stop offset="0.55" stop-color="#c8cad6"/><stop offset="0.7" stop-color="#f0f0f0"/><stop offset="0.85" stop-color="#f6efd8"/><stop offset="1" stop-color="#f3dfa6"/></linearGradient><linearGradient id="cbR" x1="0" y1="1" x2="0" y2="0"><stop offset="0" stop-color="#262c44"/><stop offset="0.175" stop-color="#4a5068"/><stop offset="0.33" stop-color="#7c8296"/><stop offset="0.48" stop-color="#b4b8c4"/><stop offset="0.58" stop-color="#e4e4e8"/><stop offset="0.68" stop-color="#f0ecdc"/><stop offset="0.78" stop-color="#f2dca0"/><stop offset="0.89" stop-color="#f2c860"/><stop offset="1" stop-color="#f0b830"/></linearGradient></defs><path d="M44.3,266.2v-3.2M44.3,5.8v3.2M59,266.2v-1.8M59,5.8v1.8M73.7,266.2v-1.8M73.7,5.8v1.8M88.3,266.2v-1.8M88.3,5.8v1.8M103,266.2v-3.2M103,5.8v3.2M117.7,266.2v-1.8M117.7,5.8v1.8M132.4,266.2v-1.8M132.4,5.8v1.8M147.1,266.2v-1.8M147.1,5.8v1.8M161.8,266.2v-3.2M161.8,5.8v3.2M176.4,266.2v-1.8M176.4,5.8v1.8M191.1,266.2v-1.8M191.1,5.8v1.8M205.8,266.2v-1.8M205.8,5.8v1.8M220.5,266.2v-3.2M220.5,5.8v3.2M235.2,266.2v-1.8M235.2,5.8v1.8M249.9,266.2v-1.8M249.9,5.8v1.8M264.6,266.2v-1.8M264.6,5.8v1.8M279.2,266.2v-3.2M279.2,5.8v3.2M293.9,266.2v-1.8M293.9,5.8v1.8M308.6,266.2v-1.8M308.6,5.8v1.8M44.3,259.9h1.8M44.3,247.2h1.8M44.3,234.6h3.2M44.3,222h1.8M44.3,209.3h1.8M44.3,196.7h1.8M44.3,184h1.8M44.3,171.4h3.2M44.3,158.8h1.8M44.3,146.1h1.8M44.3,133.5h1.8M44.3,120.8h1.8M44.3,108.2h3.2M44.3,95.6h1.8M44.3,82.9h1.8M44.3,70.3h1.8M44.3,57.6h1.8M44.3,45h3.2M44.3,32.4h1.8M44.3,19.7h1.8M44.3,7.1h1.8M308.6,262.3h-1.8M308.6,252.6h-1.8M308.6,242.9h-1.8M308.6,233.2h-1.8M308.6,223.5h-3.2M308.6,213.8h-1.8M308.6,204.1h-1.8M308.6,194.4h-1.8M308.6,184.7h-1.8M308.6,175h-3.2M308.6,165.3h-1.8M308.6,155.6h-1.8M308.6,145.9h-1.8M308.6,136.2h-1.8M308.6,126.5h-3.2M308.6,116.8h-1.8M308.6,107.1h-1.8M308.6,97.4h-1.8M308.6,87.7h-1.8M308.6,78h-3.2M308.6,68.3h-1.8M308.6,58.6h-1.8M308.6,48.9h-1.8M308.6,39.2h-1.8M308.6,29.5h-3.2M308.6,19.8h-1.8M308.6,10.1h-1.8" stroke="#3c2800" stroke-opacity="0.55" stroke-width="0.8" fill="none"/><path d="M411.6,265v-1.8M411.6,5v1.8M418.4,265v-1.8M418.4,5v1.8M425.3,265v-3.2M425.3,5v3.2M432.2,265v-1.8M432.2,5v1.8M439,265v-1.8M439,5v1.8M445.9,265v-1.8M445.9,5v1.8M452.7,265v-1.8M452.7,5v1.8M459.6,265v-3.2M459.6,5v3.2M466.4,265v-1.8M466.4,5v1.8M473.2,265v-1.8M473.2,5v1.8M480.1,265v-1.8M480.1,5v1.8M486.9,265v-1.8M486.9,5v1.8M493.8,265v-3.2M493.8,5v3.2M500.6,265v-1.8M500.6,5v1.8M507.5,265v-1.8M507.5,5v1.8M514.4,265v-1.8M514.4,5v1.8M521.2,265v-1.8M521.2,5v1.8M528,265v-3.2M528,5v3.2M534.9,265v-1.8M534.9,5v1.8M541.8,265v-1.8M541.8,5v1.8M548.6,265v-1.8M548.6,5v1.8M555.5,265v-1.8M555.5,5v1.8M562.3,265v-3.2M562.3,5v3.2M569.1,265v-1.8M569.1,5v1.8M576,265v-1.8M576,5v1.8M582.9,265v-1.8M582.9,5v1.8M589.7,265v-1.8M589.7,5v1.8M596.5,265v-3.2M596.5,5v3.2M603.4,265v-1.8M603.4,5v1.8M610.2,265v-1.8M610.2,5v1.8M617.1,265v-1.8M617.1,5v1.8M624,265v-1.8M624,5v1.8M630.8,265v-3.2M630.8,5v3.2M637.6,265v-1.8M637.6,5v1.8M644.5,265v-1.8M644.5,5v1.8M651.4,265v-1.8M651.4,5v1.8M658.2,265v-1.8M658.2,5v1.8M665,265v-3.2M665,5v3.2M411,252.5h3.2M671.8,252.5h-3.2M411,239.5h1.8M671.8,239.5h-1.8M411,226.5h1.8M671.8,226.5h-1.8M411,213.5h1.8M671.8,213.5h-1.8M411,200.5h1.8M671.8,200.5h-1.8M411,187.5h3.2M671.8,187.5h-3.2M411,174.5h1.8M671.8,174.5h-1.8M411,161.5h1.8M671.8,161.5h-1.8M411,148.5h1.8M671.8,148.5h-1.8M411,135.5h1.8M671.8,135.5h-1.8M411,122.5h3.2M671.8,122.5h-3.2M411,109.5h1.8M671.8,109.5h-1.8M411,96.5h1.8M671.8,96.5h-1.8M411,83.5h1.8M671.8,83.5h-1.8M411,70.5h1.8M671.8,70.5h-1.8M411,57.5h3.2M671.8,57.5h-3.2M411,44.5h1.8M671.8,44.5h-1.8M411,31.5h1.8M671.8,31.5h-1.8M411,18.5h1.8M671.8,18.5h-1.8M411,5.5h1.8M671.8,5.5h-1.8" stroke="#c8c8c8" stroke-opacity="0.6" stroke-width="0.8" fill="none"/><rect x="44.3" y="5.8" width="264.3" height="260.4" fill="none" stroke="#6a6a6a" stroke-width="0.9"/><rect x="411" y="5" width="260.8" height="260" fill="none" stroke="#6a6a6a" stroke-width="0.9"/><rect x="262.8" y="26.8" width="10.2" height="91" fill="url(#cbL)" stroke="#b08a3a" stroke-width="0.9"/><path d="M273,117.8h2.2M273,108.8h1.4M273,99.7h2.2M273,90.6h1.4M273,81.6h2.2M273,72.5h1.4M273,63.5h2.2M273,54.4h1.4M273,45.4h2.2M273,36.3h1.4M273,27.3h2.2" stroke="#7a5a20" stroke-width="0.7" fill="none"/><rect x="604.2" y="18.8" width="11.2" height="98.4" fill="url(#cbR)"/><line x1="262.5" y1="135.2" x2="300.4" y2="135.2" stroke="#fffdf0" stroke-width="3.3" stroke-linecap="round"/><line x1="262.5" y1="150.1" x2="300.4" y2="150.1" stroke="#0a0a0a" stroke-width="3.3" stroke-linecap="round"/><path d="M284.5,235.2 H301.8 Q306,245.4 301.8,255.6 H284.5 Q280.3,245.4 284.5,235.2Z" fill="#fcf500"/><text x="40.9" y="48.3" font-size="9.3" text-anchor="end" fill="#555" font-family="Liberation Sans, sans-serif">1.8</text><text x="40.9" y="111.5" font-size="9.3" text-anchor="end" fill="#555" font-family="Liberation Sans, sans-serif">1.7</text><text x="40.9" y="174.7" font-size="9.3" text-anchor="end" fill="#555" font-family="Liberation Sans, sans-serif">1.6</text><text x="40.9" y="237.9" font-size="9.3" text-anchor="end" fill="#555" font-family="Liberation Sans, sans-serif">1.5</text><text x="44.3" y="277.8" font-size="9.3" text-anchor="middle" fill="#555" font-family="Liberation Sans, sans-serif">0</text><text x="103" y="277.8" font-size="9.3" text-anchor="middle" fill="#555" font-family="Liberation Sans, sans-serif">20</text><text x="161.8" y="277.8" font-size="9.3" text-anchor="middle" fill="#555" font-family="Liberation Sans, sans-serif">40</text><text x="220.5" y="277.8" font-size="9.3" text-anchor="middle" fill="#555" font-family="Liberation Sans, sans-serif">60</text><text x="279.2" y="277.8" font-size="9.3" text-anchor="middle" fill="#555" font-family="Liberation Sans, sans-serif">80</text><text x="312.4" y="32.8" font-size="9.3" text-anchor="start" fill="#555" font-family="Liberation Sans, sans-serif">1.20</text><text x="312.4" y="81.3" font-size="9.3" text-anchor="start" fill="#555" font-family="Liberation Sans, sans-serif">1.15</text><text x="312.4" y="129.8" font-size="9.3" text-anchor="start" fill="#555" font-family="Liberation Sans, sans-serif">1.10</text><text x="312.4" y="178.3" font-size="9.3" text-anchor="start" fill="#555" font-family="Liberation Sans, sans-serif">1.05</text><text x="312.4" y="226.8" font-size="9.3" text-anchor="start" fill="#555" font-family="Liberation Sans, sans-serif">1.00</text><text x="314.6" y="10.2" font-size="11" text-anchor="start" fill="#555" font-family="Liberation Mono, monospace" font-weight="bold">eV</text><text x="279.8" y="30.6" font-size="11" text-anchor="start" fill="#151515" font-family="Liberation Sans, sans-serif" font-weight="bold">1.0</text><text x="279.8" y="48.7" font-size="11" text-anchor="start" fill="#151515" font-family="Liberation Sans, sans-serif" font-weight="bold">0.8</text><text x="279.8" y="66.8" font-size="11" text-anchor="start" fill="#151515" font-family="Liberation Sans, sans-serif" font-weight="bold">0.6</text><text x="279.8" y="84.9" font-size="11" text-anchor="start" fill="#151515" font-family="Liberation Sans, sans-serif" font-weight="bold">0.4</text><text x="279.8" y="103" font-size="11" text-anchor="start" fill="#151515" font-family="Liberation Sans, sans-serif" font-weight="bold">0.2</text><text x="211" y="137.9" font-size="11.3" text-anchor="start" fill="#1a1a1a" font-family="Liberation Sans, sans-serif">FB Mode</text><text x="211.6" y="153.4" font-size="11.3" text-anchor="start" fill="#1a1a1a" font-family="Liberation Sans, sans-serif">PB Mode</text><text x="131.8" y="298.6" font-size="11.9" text-anchor="start" fill="#555" font-family="Liberation Mono, monospace">Incident Angle °</text><text x="492.9" y="295.7" font-size="11.2" text-anchor="start" fill="#555" font-family="Liberation Mono, monospace">Incident Angle °</text><text transform="translate(10.6,190) rotate(-90)" font-size="10.5" fill="#555" font-family="Liberation Mono, monospace">Frequency (2π/fs)</text><text transform="translate(374.4,187.3) rotate(-90)" font-size="10.2" fill="#555" font-family="Liberation Mono, monospace">Frequency (2π/fs)</text><text x="407.2" y="60.9" font-size="9.4" text-anchor="end" fill="#555" font-family="Liberation Sans, sans-serif">1.560</text><text x="407.2" y="125.9" font-size="9.4" text-anchor="end" fill="#555" font-family="Liberation Sans, sans-serif">1.555</text><text x="407.2" y="190.9" font-size="9.4" text-anchor="end" fill="#555" font-family="Liberation Sans, sans-serif">1.550</text><text x="407.2" y="255.9" font-size="9.4" text-anchor="end" fill="#555" font-family="Liberation Sans, sans-serif">1.545</text><text x="425.3" y="276.5" font-size="9.4" text-anchor="middle" fill="#555" font-family="Liberation Sans, sans-serif">40</text><text x="459.6" y="276.5" font-size="9.4" text-anchor="middle" fill="#555" font-family="Liberation Sans, sans-serif">45</text><text x="493.8" y="276.5" font-size="9.4" text-anchor="middle" fill="#555" font-family="Liberation Sans, sans-serif">50</text><text x="528" y="276.5" font-size="9.4" text-anchor="middle" fill="#555" font-family="Liberation Sans, sans-serif">55</text><text x="562.3" y="276.5" font-size="9.4" text-anchor="middle" fill="#555" font-family="Liberation Sans, sans-serif">60</text><text x="596.5" y="276.5" font-size="9.4" text-anchor="middle" fill="#555" font-family="Liberation Sans, sans-serif">65</text><text x="630.8" y="276.5" font-size="9.4" text-anchor="middle" fill="#555" font-family="Liberation Sans, sans-serif">70</text><text x="665" y="276.5" font-size="9.4" text-anchor="middle" fill="#555" font-family="Liberation Sans, sans-serif">75</text><text transform="translate(419.4,33.2) scale(0.86,1)" font-size="16" fill="#333" font-family="Liberation Sans, sans-serif" font-weight="bold">(b)</text><text x="579.4" y="35.7" font-size="12.4" text-anchor="start" fill="#111" font-family="Liberation Sans, sans-serif" font-weight="bold">0.9</text><text x="579.4" y="48.1" font-size="12.4" text-anchor="start" fill="#111" font-family="Liberation Sans, sans-serif" font-weight="bold">0.8</text><text x="579.4" y="60.5" font-size="12.4" text-anchor="start" fill="#111" font-family="Liberation Sans, sans-serif" font-weight="bold">0.7</text><text x="579.4" y="72.9" font-size="12.4" text-anchor="start" fill="#111" font-family="Liberation Sans, sans-serif" font-weight="bold">0.6</text><text x="579.4" y="85.3" font-size="12.4" text-anchor="start" fill="#111" font-family="Liberation Sans, sans-serif" font-weight="bold">0.5</text><text x="579.4" y="97.7" font-size="12.4" text-anchor="start" fill="#111" font-family="Liberation Sans, sans-serif" font-weight="bold">0.4</text><text x="579.4" y="110.1" font-size="12.4" text-anchor="start" fill="#111" font-family="Liberation Sans, sans-serif" font-weight="bold">0.3</text></svg></div>
</body></html>
